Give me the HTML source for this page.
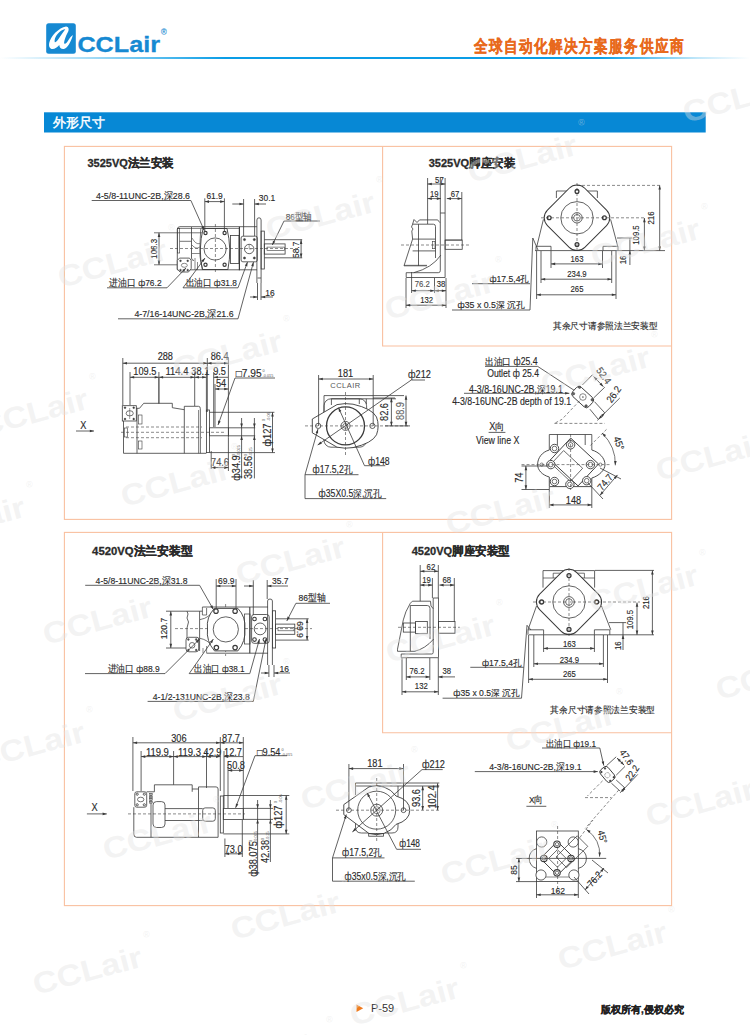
<!DOCTYPE html>
<html><head><meta charset="utf-8"><style>
html,body{margin:0;padding:0;background:#fff;}
body{width:750px;height:1035px;overflow:hidden;position:relative;font-family:"Liberation Sans",sans-serif;}
svg{position:absolute;left:0;top:0;}
</style></head><body>
<svg width="750" height="1035" viewBox="0 0 750 1035">
<defs>
<linearGradient id="hl" x1="0" x2="1" y1="0" y2="0">
<stop offset="0" stop-color="#0aa0e8" stop-opacity="0"/>
<stop offset="0.1" stop-color="#0aa0e8" stop-opacity="0.3"/>
<stop offset="0.3" stop-color="#0a9de6" stop-opacity="1"/>
<stop offset="0.8" stop-color="#0a9de6" stop-opacity="1"/>
<stop offset="0.93" stop-color="#0aa0e8" stop-opacity="0.25"/>
<stop offset="1" stop-color="#0aa0e8" stop-opacity="0"/>
</linearGradient>
</defs>
<rect x="46.2" y="23.2" width="29.6" height="30.6" rx="2.5" fill="#1689d2"/>
<path d="M66,26.4 C59,27.5 50.5,36 49.2,43 C48.6,46.5 49.8,49 52.5,49 C55,49 57.5,47 59.3,45 C59.5,47.8 61.2,49.3 63.8,49 C67.5,48.3 71.2,41.5 72.9,35 C71.3,36.2 69.8,37.8 68.5,40 C67,42.5 65.2,44.5 64.3,43.5 C63.6,42.5 65.5,36.5 68.2,31.5 C69.3,29.2 68.5,26.3 66,26.4 Z" fill="#fff"/>
<path d="M54.8,42.2 C54,39.5 56,35 59.5,32 C61.8,30 64,29 65.3,29.2 C63.8,31.2 61.5,34.5 59.5,37.5 C57.8,40 56,42.8 54.8,42.2 Z" fill="#1689d2"/>
<text x="77.4" y="52.0" font-size="22.5" text-anchor="start" font-weight="bold" fill="#1689d2" textLength="82.6" lengthAdjust="spacingAndGlyphs" stroke="#1689d2" stroke-width="0.3" font-family="Liberation Sans, sans-serif">CCLair</text>
<text x="161.0" y="34.7" font-size="9" text-anchor="start" font-weight="normal" fill="#1689d2" textLength="5.7" lengthAdjust="spacingAndGlyphs" stroke="#1689d2" stroke-width="0.14" font-family="Liberation Sans, sans-serif">®</text>
<text transform="translate(473.5,52.3) scale(0.8,1)" x="0" y="0" font-size="16.5" font-weight="bold" letter-spacing="2.3" fill="#e8691c" stroke="#e8691c" stroke-width="0.35" font-family="Liberation Sans, sans-serif">全球自动化解决方案服务供应商</text>
<rect x="0" y="57" width="750" height="2" fill="url(#hl)"/>
<rect x="44" y="112.3" width="661.7" height="20.2" fill="#0788d5"/>
<text x="52.7" y="127.4" font-size="13" text-anchor="start" font-weight="normal" fill="#ffffff" textLength="52" lengthAdjust="spacingAndGlyphs" stroke="#ffffff" stroke-width="0.45" font-family="Liberation Sans, sans-serif">外形尺寸</text>
<rect x="64.4" y="146.4" width="607.2" height="373.0" rx="0" fill="none" stroke="#f9c0a0" stroke-width="1.1"/>
<polyline points="382.6,146.4 382.6,346.0 671.6,346.0" fill="none" stroke="#f9c0a0" stroke-width="1.1"/>
<rect x="64.4" y="532.4" width="607.2" height="373.2" rx="0" fill="none" stroke="#f9c0a0" stroke-width="1.1"/>
<polyline points="382.6,532.4 382.6,732.8 671.6,732.8" fill="none" stroke="#f9c0a0" stroke-width="1.1"/>
<text x="87.5" y="167.1" font-size="11.5" text-anchor="start" font-weight="bold" fill="#2a2a2a" textLength="86.3" lengthAdjust="spacingAndGlyphs" stroke="#2a2a2a" stroke-width="0.3" font-family="Liberation Sans, sans-serif">3525VQ法兰安装</text>
<text x="428.7" y="167.4" font-size="11.5" text-anchor="start" font-weight="bold" fill="#2a2a2a" textLength="86.3" lengthAdjust="spacingAndGlyphs" stroke="#2a2a2a" stroke-width="0.3" font-family="Liberation Sans, sans-serif">3525VQ脚座安装</text>
<text x="92.1" y="554.7" font-size="11.5" text-anchor="start" font-weight="bold" fill="#2a2a2a" textLength="100.5" lengthAdjust="spacingAndGlyphs" stroke="#2a2a2a" stroke-width="0.3" font-family="Liberation Sans, sans-serif">4520VQ法兰安装型</text>
<text x="411.7" y="554.5" font-size="11.5" text-anchor="start" font-weight="bold" fill="#2a2a2a" textLength="98.1" lengthAdjust="spacingAndGlyphs" stroke="#2a2a2a" stroke-width="0.3" font-family="Liberation Sans, sans-serif">4520VQ脚座安装型</text>
<polygon points="356.5,1004.6 363.2,1008.3 356.5,1012" fill="#f07a1e"/>
<text x="371.0" y="1012.0" font-size="11" text-anchor="start" font-weight="normal" fill="#333" font-family="Liberation Sans, sans-serif">P-59</text>
<text x="601" y="1013.3" font-size="10" font-weight="bold" fill="#222" stroke="#222" stroke-width="0.3" textLength="83" lengthAdjust="spacingAndGlyphs" font-family="Liberation Sans, sans-serif">版权所有,侵权必究</text>
<text x="96.0" y="199.1" font-size="9.6" text-anchor="start" font-weight="normal" fill="#2a2a2a" textLength="94" lengthAdjust="spacingAndGlyphs" stroke="#2a2a2a" stroke-width="0.14" font-family="Liberation Sans, sans-serif">4-5/8-11UNC-2B,深28.6</text>
<polyline points="91.7,200.5 190.9,200.5 204.3,230.5" fill="none" stroke="#3a3a3a" stroke-width="0.8"/>
<polygon points="204.3,230.5 201.3,227.2 203.7,226.1" fill="#3a3a3a"/>
<text x="214.6" y="198.5" font-size="9.6" text-anchor="middle" font-weight="normal" fill="#2a2a2a" textLength="16.44" lengthAdjust="spacingAndGlyphs" stroke="#2a2a2a" stroke-width="0.14" font-family="Liberation Sans, sans-serif">61.9</text>
<line x1="204.8" y1="201.6" x2="224.4" y2="201.6" stroke="#3a3a3a" stroke-width="0.8"/>
<polygon points="204.8,201.6 209.0,200.3 209.0,202.9" fill="#3a3a3a"/>
<polygon points="224.4,201.6 220.2,202.9 220.2,200.3" fill="#3a3a3a"/>
<line x1="204.8" y1="198.3" x2="204.8" y2="231.0" stroke="#3a3a3a" stroke-width="0.8"/>
<line x1="224.4" y1="198.3" x2="224.4" y2="231.0" stroke="#3a3a3a" stroke-width="0.8"/>
<text x="267.0" y="200.8" font-size="9.6" text-anchor="middle" font-weight="normal" fill="#2a2a2a" textLength="16.44" lengthAdjust="spacingAndGlyphs" stroke="#2a2a2a" stroke-width="0.14" font-family="Liberation Sans, sans-serif">30.1</text>
<line x1="232.3" y1="204.0" x2="243.6" y2="204.0" stroke="#3a3a3a" stroke-width="0.8"/>
<polygon points="243.6,204.0 239.4,205.3 239.4,202.7" fill="#3a3a3a"/>
<line x1="254.6" y1="204.0" x2="266.0" y2="204.0" stroke="#3a3a3a" stroke-width="0.8"/>
<polygon points="254.6,204.0 258.8,202.7 258.8,205.3" fill="#3a3a3a"/>
<line x1="243.6" y1="199.0" x2="243.6" y2="236.0" stroke="#3a3a3a" stroke-width="0.8"/>
<line x1="254.6" y1="199.0" x2="254.6" y2="236.0" stroke="#3a3a3a" stroke-width="0.8"/>
<text x="285.7" y="219.7" font-size="9.6" text-anchor="start" font-weight="normal" fill="#555" textLength="26.1" lengthAdjust="spacingAndGlyphs" stroke="#555" stroke-width="0.14" font-family="Liberation Sans, sans-serif">86型轴</text>
<polyline points="284.0,221.0 320.0,221.0" fill="none" stroke="#3a3a3a" stroke-width="0.8"/>
<line x1="284.0" y1="221.0" x2="272.3" y2="245.0" stroke="#3a3a3a" stroke-width="0.8"/>
<polygon points="272.3,245.0 273.0,240.7 275.3,241.8" fill="#3a3a3a"/>
<line x1="154.0" y1="232.8" x2="201.9" y2="232.8" stroke="#3a3a3a" stroke-width="0.7"/>
<line x1="154.0" y1="264.8" x2="177.3" y2="264.8" stroke="#3a3a3a" stroke-width="0.7"/>
<line x1="159.0" y1="232.8" x2="159.0" y2="264.8" stroke="#3a3a3a" stroke-width="0.8"/>
<polygon points="159.0,232.8 160.3,237.0 157.7,237.0" fill="#3a3a3a"/>
<polygon points="159.0,264.8 157.7,260.6 160.3,260.6" fill="#3a3a3a"/>
<text x="153.5" y="252.0" font-size="9" text-anchor="middle" font-weight="normal" fill="#2a2a2a" transform="rotate(-90 153.5 248.8)" textLength="19.82" lengthAdjust="spacingAndGlyphs" stroke="#2a2a2a" stroke-width="0.14" font-family="Liberation Sans, sans-serif">106.3</text>
<line x1="264.3" y1="239.7" x2="302.2" y2="239.7" stroke="#3a3a3a" stroke-width="0.8"/>
<line x1="264.3" y1="257.8" x2="302.2" y2="257.8" stroke="#3a3a3a" stroke-width="0.8"/>
<line x1="301.1" y1="239.7" x2="301.1" y2="257.8" stroke="#3a3a3a" stroke-width="0.8"/>
<polygon points="301.1,239.7 302.4,243.9 299.8,243.9" fill="#3a3a3a"/>
<polygon points="301.1,257.8 299.8,253.6 302.4,253.6" fill="#3a3a3a"/>
<text x="295.3" y="253.3" font-size="9.6" text-anchor="middle" font-weight="normal" fill="#2a2a2a" transform="rotate(-90 295.3 249.8)" textLength="16.44" lengthAdjust="spacingAndGlyphs" stroke="#2a2a2a" stroke-width="0.14" font-family="Liberation Sans, sans-serif">58.7</text>
<line x1="170.0" y1="248.5" x2="300.0" y2="248.5" stroke="#3a3a3a" stroke-width="0.6" stroke-dasharray="3,2"/>
<line x1="215.4" y1="224.0" x2="215.4" y2="272.0" stroke="#3a3a3a" stroke-width="0.6" stroke-dasharray="3,2"/>
<path d="M180,226.7 L256.9,226.7 M177.3,229.4 Q177.3,226.7 180,226.7 M177.3,229.4 L177.3,269.8 L257,269.8" fill="none" stroke="#3a3a3a" stroke-width="0.8"/>
<line x1="177.3" y1="228.5" x2="239.4" y2="228.5" stroke="#3a3a3a" stroke-width="0.6"/>
<rect x="177.3" y="228.5" width="2.4" height="24.5" rx="0" fill="none" stroke="#3a3a3a" stroke-width="0.6"/>
<line x1="179.7" y1="241.3" x2="191.5" y2="241.3" stroke="#3a3a3a" stroke-width="0.7"/>
<path d="M191.5,227 L191.5,258 Q191.5,260.5 194,260.5" fill="none" stroke="#3a3a3a" stroke-width="0.8"/>
<path d="M192,238 Q196,245 199.8,243.5 M192,253.5 L199.8,253.5 M192,245 Q196,250 199.8,247" fill="none" stroke="#3a3a3a" stroke-width="0.6"/>
<path d="M200.8,228.5 Q199.5,250 200,256 Q200.5,263 202.9,269.8" fill="none" stroke="#3a3a3a" stroke-width="0.7"/>
<line x1="195.0" y1="258.0" x2="195.0" y2="269.8" stroke="#3a3a3a" stroke-width="0.6"/>
<line x1="197.5" y1="262.0" x2="197.5" y2="269.8" stroke="#3a3a3a" stroke-width="0.6"/>
<path d="M203.1,228.5 L227,228.5 Q232,249 227.9,269.5 L202.3,269.5 Q198,249 203.1,228.5 Z" fill="none" stroke="#3a3a3a" stroke-width="0.9"/>
<circle cx="215.1" cy="249.0" r="11.1" fill="none" stroke="#3a3a3a" stroke-width="0.8"/>
<circle cx="205.5" cy="233.0" r="1.6" fill="none" stroke="#3a3a3a" stroke-width="1.2"/>
<circle cx="224.6" cy="233.0" r="1.6" fill="none" stroke="#3a3a3a" stroke-width="1.2"/>
<circle cx="205.5" cy="264.8" r="1.6" fill="none" stroke="#3a3a3a" stroke-width="1.2"/>
<circle cx="224.6" cy="264.8" r="1.6" fill="none" stroke="#3a3a3a" stroke-width="1.2"/>
<rect x="230.4" y="235.4" width="8.6" height="28.1" rx="0" fill="none" stroke="#3a3a3a" stroke-width="0.8"/>
<line x1="239.4" y1="226.7" x2="239.4" y2="270.3" stroke="#3a3a3a" stroke-width="1.2"/>
<rect x="241.1" y="236.2" width="16.2" height="25.6" rx="1.8" fill="none" stroke="#3a3a3a" stroke-width="0.8"/>
<circle cx="249.2" cy="249.0" r="4.7" fill="none" stroke="#3a3a3a" stroke-width="0.8"/>
<line x1="249.2" y1="244.5" x2="249.2" y2="249.0" stroke="#3a3a3a" stroke-width="0.5"/>
<line x1="249.2" y1="249.0" x2="251.5" y2="249.0" stroke="#3a3a3a" stroke-width="0.5"/>
<circle cx="244.5" cy="239.6" r="1.1" fill="#3a3a3a" stroke="#3a3a3a" stroke-width="0.5"/>
<circle cx="254.3" cy="239.6" r="1.1" fill="#3a3a3a" stroke="#3a3a3a" stroke-width="0.5"/>
<circle cx="244.5" cy="258.0" r="1.1" fill="#3a3a3a" stroke="#3a3a3a" stroke-width="0.5"/>
<circle cx="254.3" cy="258.0" r="1.1" fill="#3a3a3a" stroke="#3a3a3a" stroke-width="0.5"/>
<path d="M256.9,283 L256.9,220 Q256.9,217.8 259,217.8 Q261.1,217.8 261.1,220 L261.1,283" fill="none" stroke="#3a3a3a" stroke-width="0.8"/>
<rect x="261.1" y="231.1" width="3.2" height="37.9" rx="0" fill="none" stroke="#3a3a3a" stroke-width="0.8"/>
<line x1="257.5" y1="278.0" x2="261.0" y2="278.0" stroke="#3a3a3a" stroke-width="0.8"/>
<rect x="264.3" y="243.9" width="20.8" height="10.2" rx="0" fill="none" stroke="#3a3a3a" stroke-width="0.8"/>
<rect x="267.0" y="247.1" width="17.6" height="3.2" rx="0" fill="none" stroke="#3a3a3a" stroke-width="0.6"/>
<path d="M179.5,258.1 L189.5,258.1 L191.2,260.5 L191.2,268.5 L188.5,272 L180,272 L177.3,269 L177.3,260.5 Z" fill="#fff" stroke="#3a3a3a" stroke-width="0.8"/>
<ellipse cx="184.3" cy="265.3" rx="3" ry="2" fill="none" stroke="#3a3a3a" stroke-width="0.6"/>
<circle cx="180.5" cy="260.8" r="0.9" fill="#3a3a3a" stroke="#3a3a3a" stroke-width="0.4"/>
<circle cx="187.7" cy="260.8" r="0.9" fill="#3a3a3a" stroke="#3a3a3a" stroke-width="0.4"/>
<circle cx="180.5" cy="270.1" r="0.9" fill="#3a3a3a" stroke="#3a3a3a" stroke-width="0.4"/>
<circle cx="187.7" cy="270.1" r="0.9" fill="#3a3a3a" stroke="#3a3a3a" stroke-width="0.4"/>
<text x="109.4" y="285.5" font-size="9.6" text-anchor="start" font-weight="normal" fill="#2a2a2a" textLength="52.2" lengthAdjust="spacingAndGlyphs" stroke="#2a2a2a" stroke-width="0.14" font-family="Liberation Sans, sans-serif">进油口 ф76.2</text>
<polyline points="107.0,287.8 167.0,287.8 186.0,268.0" fill="none" stroke="#3a3a3a" stroke-width="0.8"/>
<polygon points="186.0,268.0 184.0,271.9 182.1,270.1" fill="#3a3a3a"/>
<text x="185.6" y="285.5" font-size="9.6" text-anchor="start" font-weight="normal" fill="#2a2a2a" textLength="51.2" lengthAdjust="spacingAndGlyphs" stroke="#2a2a2a" stroke-width="0.14" font-family="Liberation Sans, sans-serif">出油口 ф31.8</text>
<polyline points="183.0,287.8 238.0,287.8 247.5,262.0" fill="none" stroke="#3a3a3a" stroke-width="0.8"/>
<line x1="183.0" y1="287.8" x2="205.0" y2="258.0" stroke="#3a3a3a" stroke-width="0.8"/>
<polygon points="205.0,258.0 203.5,262.1 201.4,260.6" fill="#3a3a3a"/>
<polygon points="247.5,262.0 247.3,266.4 244.8,265.5" fill="#3a3a3a"/>
<line x1="257.5" y1="283.0" x2="257.5" y2="300.0" stroke="#3a3a3a" stroke-width="0.8"/>
<line x1="261.0" y1="283.0" x2="261.0" y2="300.0" stroke="#3a3a3a" stroke-width="0.8"/>
<line x1="250.0" y1="297.0" x2="257.5" y2="297.0" stroke="#3a3a3a" stroke-width="0.8"/>
<polygon points="257.5,297.0 253.3,298.3 253.3,295.7" fill="#3a3a3a"/>
<line x1="261.0" y1="297.0" x2="273.0" y2="297.0" stroke="#3a3a3a" stroke-width="0.8"/>
<polygon points="261.0,297.0 265.2,295.7 265.2,298.3" fill="#3a3a3a"/>
<text x="265.2" y="296.0" font-size="9.6" text-anchor="start" font-weight="normal" fill="#2a2a2a" textLength="9.4" lengthAdjust="spacingAndGlyphs" stroke="#2a2a2a" stroke-width="0.14" font-family="Liberation Sans, sans-serif">16</text>
<text x="134.4" y="316.7" font-size="9.6" text-anchor="start" font-weight="normal" fill="#2a2a2a" textLength="99.2" lengthAdjust="spacingAndGlyphs" stroke="#2a2a2a" stroke-width="0.14" font-family="Liberation Sans, sans-serif">4-7/16-14UNC-2B,深21.6</text>
<polyline points="118.0,318.8 238.0,318.8 253.5,262.0" fill="none" stroke="#3a3a3a" stroke-width="0.8"/>
<polygon points="253.5,262.0 253.7,266.4 251.2,265.7" fill="#3a3a3a"/>
<text x="439.4" y="182.7" font-size="9.0" text-anchor="middle" font-weight="normal" fill="#2a2a2a" textLength="8.61" lengthAdjust="spacingAndGlyphs" stroke="#2a2a2a" stroke-width="0.14" font-family="Liberation Sans, sans-serif">57</text>
<line x1="427.6" y1="184.0" x2="445.3" y2="184.0" stroke="#3a3a3a" stroke-width="0.8"/>
<polygon points="427.6,184.0 431.8,182.7 431.8,185.3" fill="#3a3a3a"/>
<polygon points="445.3,184.0 441.1,185.3 441.1,182.7" fill="#3a3a3a"/>
<text x="434.3" y="196.7" font-size="9.0" text-anchor="middle" font-weight="normal" fill="#2a2a2a" textLength="8.61" lengthAdjust="spacingAndGlyphs" stroke="#2a2a2a" stroke-width="0.14" font-family="Liberation Sans, sans-serif">19</text>
<line x1="427.6" y1="198.6" x2="441.0" y2="198.6" stroke="#3a3a3a" stroke-width="0.8"/>
<polygon points="427.6,198.6 431.8,197.3 431.8,199.9" fill="#3a3a3a"/>
<polygon points="441.0,198.6 436.8,199.9 436.8,197.3" fill="#3a3a3a"/>
<text x="455.0" y="196.7" font-size="9.0" text-anchor="middle" font-weight="normal" fill="#2a2a2a" textLength="8.61" lengthAdjust="spacingAndGlyphs" stroke="#2a2a2a" stroke-width="0.14" font-family="Liberation Sans, sans-serif">67</text>
<line x1="446.8" y1="198.6" x2="461.8" y2="198.6" stroke="#3a3a3a" stroke-width="0.8"/>
<polygon points="446.8,198.6 451.0,197.3 451.0,199.9" fill="#3a3a3a"/>
<polygon points="461.8,198.6 457.6,199.9 457.6,197.3" fill="#3a3a3a"/>
<line x1="427.6" y1="178.0" x2="427.6" y2="224.0" stroke="#3a3a3a" stroke-width="0.8"/>
<line x1="461.8" y1="192.0" x2="461.8" y2="240.0" stroke="#3a3a3a" stroke-width="0.8"/>
<line x1="440.3" y1="178.0" x2="440.3" y2="213.0" stroke="#3a3a3a" stroke-width="0.8"/>
<line x1="445.1" y1="178.0" x2="445.1" y2="213.0" stroke="#3a3a3a" stroke-width="0.8"/>
<path d="M440.3,213 L440.3,270.7 Q440.3,272.7 438.3,272.7 L406.2,272.7 L406.2,277.5 L445.1,277.5 L445.1,213 Z" fill="none" stroke="#3a3a3a" stroke-width="0.8"/>
<polyline points="412.6,224.2 414.0,219.5 417.0,222.5 419.5,219.9 437.7,219.9 439.8,222.6" fill="none" stroke="#3a3a3a" stroke-width="0.8"/>
<path d="M412.6,224.2 L433.4,224.2 Q435.5,224.2 435.5,226.5 L435.5,258" fill="none" stroke="#3a3a3a" stroke-width="0.8"/>
<polyline points="412.6,224.2 411.5,227.0 413.0,229.0 411.8,231.0 412.6,239.1 404.0,265.8 427.0,265.8" fill="none" stroke="#3a3a3a" stroke-width="0.8"/>
<line x1="412.6" y1="239.1" x2="435.5" y2="239.1" stroke="#3a3a3a" stroke-width="0.8"/>
<line x1="412.6" y1="250.9" x2="435.5" y2="250.9" stroke="#3a3a3a" stroke-width="0.8"/>
<line x1="418.5" y1="224.2" x2="418.5" y2="265.8" stroke="#3a3a3a" stroke-width="0.8"/>
<line x1="404.0" y1="265.3" x2="427.0" y2="265.3" stroke="#3a3a3a" stroke-width="0.6"/>
<path d="M440.9,255.1 Q432,268 413.7,272.7" fill="none" stroke="#3a3a3a" stroke-width="0.8"/>
<rect x="432.3" y="241.3" width="2.7" height="7.4" rx="0" fill="none" stroke="#3a3a3a" stroke-width="0.6"/>
<rect x="445.1" y="240.2" width="17.1" height="9.1" rx="0" fill="none" stroke="#3a3a3a" stroke-width="0.8"/>
<line x1="445.1" y1="239.8" x2="462.2" y2="239.8" stroke="#3a3a3a" stroke-width="0.6"/>
<line x1="401.0" y1="245.0" x2="469.0" y2="245.0" stroke="#3a3a3a" stroke-width="0.6" stroke-dasharray="3,2"/>
<line x1="411.6" y1="272.0" x2="411.6" y2="293.0" stroke="#3a3a3a" stroke-width="0.8"/>
<line x1="434.5" y1="278.0" x2="434.5" y2="293.0" stroke="#3a3a3a" stroke-width="0.8"/>
<line x1="446.0" y1="278.0" x2="446.0" y2="308.0" stroke="#3a3a3a" stroke-width="0.8"/>
<line x1="406.0" y1="278.0" x2="406.0" y2="308.0" stroke="#3a3a3a" stroke-width="0.8"/>
<text x="422.3" y="287.2" font-size="9.0" text-anchor="middle" font-weight="normal" fill="#555" textLength="15.06" lengthAdjust="spacingAndGlyphs" stroke="#555" stroke-width="0.14" font-family="Liberation Sans, sans-serif">76.2</text>
<text x="441.0" y="287.2" font-size="9.0" text-anchor="middle" font-weight="normal" fill="#2a2a2a" textLength="8.61" lengthAdjust="spacingAndGlyphs" stroke="#2a2a2a" stroke-width="0.14" font-family="Liberation Sans, sans-serif">38</text>
<line x1="411.6" y1="290.7" x2="446.0" y2="290.7" stroke="#3a3a3a" stroke-width="0.8"/>
<polygon points="411.6,290.7 415.8,289.4 415.8,292.0" fill="#3a3a3a"/>
<polygon points="434.5,290.7 430.3,292.0 430.3,289.4" fill="#3a3a3a"/>
<polygon points="434.5,290.7 438.7,289.4 438.7,292.0" fill="#3a3a3a"/>
<polygon points="446.0,290.7 441.8,292.0 441.8,289.4" fill="#3a3a3a"/>
<text x="426.6" y="303.2" font-size="9.0" text-anchor="middle" font-weight="normal" fill="#2a2a2a" textLength="12.91" lengthAdjust="spacingAndGlyphs" stroke="#2a2a2a" stroke-width="0.14" font-family="Liberation Sans, sans-serif">132</text>
<line x1="406.0" y1="305.2" x2="446.0" y2="305.2" stroke="#3a3a3a" stroke-width="0.8"/>
<polygon points="406.0,305.2 410.2,303.9 410.2,306.5" fill="#3a3a3a"/>
<polygon points="446.0,305.2 441.8,306.5 441.8,303.9" fill="#3a3a3a"/>
<text x="489.5" y="282.2" font-size="9.0" text-anchor="start" font-weight="normal" fill="#2a2a2a" textLength="39.5" lengthAdjust="spacingAndGlyphs" stroke="#2a2a2a" stroke-width="0.14" font-family="Liberation Sans, sans-serif">ф17.5,4孔</text>
<line x1="472.0" y1="283.7" x2="530.0" y2="283.7" stroke="#3a3a3a" stroke-width="0.8"/>
<text x="457.5" y="308.2" font-size="9.0" text-anchor="start" font-weight="normal" fill="#2a2a2a" textLength="67.2" lengthAdjust="spacingAndGlyphs" stroke="#2a2a2a" stroke-width="0.14" font-family="Liberation Sans, sans-serif">ф35 x 0.5深 沉孔</text>
<polyline points="452.0,310.0 530.0,310.0 532.8,238.0 538.0,250.0" fill="none" stroke="#3a3a3a" stroke-width="0.8"/>
<polyline points="556.4,198.0 556.4,191.0 597.4,191.0 597.4,198.0" fill="none" stroke="#3a3a3a" stroke-width="0.8"/>
<rect x="550.6" y="191.4" width="52.8" height="52.8" rx="11" fill="#fff" stroke="#3a3a3a" stroke-width="1.0" transform="rotate(45 577 217.8)"/>
<circle cx="577.0" cy="217.8" r="16.2" fill="none" stroke="#3a3a3a" stroke-width="0.8"/>
<circle cx="577.0" cy="217.8" r="5.2" fill="none" stroke="#3a3a3a" stroke-width="0.8"/>
<circle cx="577.0" cy="217.8" r="3.3" fill="none" stroke="#3a3a3a" stroke-width="0.7"/>
<circle cx="577.0" cy="191.4" r="1.9" fill="none" stroke="#3a3a3a" stroke-width="1.3"/>
<circle cx="577.0" cy="244.6" r="1.9" fill="none" stroke="#3a3a3a" stroke-width="1.3"/>
<circle cx="549.2" cy="217.8" r="1.9" fill="none" stroke="#3a3a3a" stroke-width="1.3"/>
<circle cx="604.4" cy="217.8" r="1.9" fill="none" stroke="#3a3a3a" stroke-width="1.3"/>
<line x1="577.0" y1="183.0" x2="577.0" y2="252.0" stroke="#3a3a3a" stroke-width="0.6" stroke-dasharray="3,2"/>
<line x1="541.0" y1="217.8" x2="645.0" y2="217.8" stroke="#3a3a3a" stroke-width="0.6" stroke-dasharray="3,2"/>
<line x1="577.0" y1="185.4" x2="662.0" y2="185.4" stroke="#3a3a3a" stroke-width="0.6" stroke-dasharray="3,2"/>
<polyline points="543.4,219.4 536.8,246.4" fill="none" stroke="#3a3a3a" stroke-width="0.8"/>
<polyline points="610.6,219.4 617.8,246.4" fill="none" stroke="#3a3a3a" stroke-width="0.8"/>
<line x1="535.0" y1="250.6" x2="665.0" y2="250.6" stroke="#3a3a3a" stroke-width="0.8"/>
<polyline points="536.0,250.6 536.0,246.3 551.0,246.3 551.0,250.6" fill="none" stroke="#3a3a3a" stroke-width="0.8"/>
<polyline points="603.0,250.6 603.0,246.3 618.0,246.3 618.0,250.6" fill="none" stroke="#3a3a3a" stroke-width="0.8"/>
<line x1="659.7" y1="185.4" x2="659.7" y2="250.6" stroke="#3a3a3a" stroke-width="0.8"/>
<polygon points="659.7,185.4 661.0,189.6 658.4,189.6" fill="#3a3a3a"/>
<polygon points="659.7,250.6 658.4,246.4 661.0,246.4" fill="#3a3a3a"/>
<text x="651.0" y="221.2" font-size="9.0" text-anchor="middle" font-weight="normal" fill="#2a2a2a" transform="rotate(-90 651.0 218.0)" textLength="12.91" lengthAdjust="spacingAndGlyphs" stroke="#2a2a2a" stroke-width="0.14" font-family="Liberation Sans, sans-serif">216</text>
<line x1="644.4" y1="218.0" x2="644.4" y2="250.6" stroke="#3a3a3a" stroke-width="0.8"/>
<polygon points="644.4,218.0 645.7,222.2 643.1,222.2" fill="#3a3a3a"/>
<polygon points="644.4,250.6 643.1,246.4 645.7,246.4" fill="#3a3a3a"/>
<text x="636.0" y="238.2" font-size="9.0" text-anchor="middle" font-weight="normal" fill="#2a2a2a" transform="rotate(-90 636.0 235.0)" textLength="19.37" lengthAdjust="spacingAndGlyphs" stroke="#2a2a2a" stroke-width="0.14" font-family="Liberation Sans, sans-serif">109.5</text>
<line x1="629.9" y1="238.0" x2="629.9" y2="265.0" stroke="#3a3a3a" stroke-width="0.8"/>
<polygon points="629.9,250.6 631.2,254.8 628.6,254.8" fill="#3a3a3a"/>
<line x1="617.0" y1="238.0" x2="632.0" y2="238.0" stroke="#3a3a3a" stroke-width="0.8"/>
<text x="622.5" y="263.2" font-size="9.0" text-anchor="middle" font-weight="normal" fill="#2a2a2a" transform="rotate(-90 622.5 260.0)" textLength="8.61" lengthAdjust="spacingAndGlyphs" stroke="#2a2a2a" stroke-width="0.14" font-family="Liberation Sans, sans-serif">16</text>
<line x1="551.0" y1="251.0" x2="551.0" y2="268.0" stroke="#3a3a3a" stroke-width="0.8"/>
<line x1="602.5" y1="251.0" x2="602.5" y2="268.0" stroke="#3a3a3a" stroke-width="0.8"/>
<text x="577.0" y="261.7" font-size="9.0" text-anchor="middle" font-weight="normal" fill="#2a2a2a" textLength="12.91" lengthAdjust="spacingAndGlyphs" stroke="#2a2a2a" stroke-width="0.14" font-family="Liberation Sans, sans-serif">163</text>
<line x1="551.0" y1="263.9" x2="602.5" y2="263.9" stroke="#3a3a3a" stroke-width="0.8"/>
<polygon points="551.0,263.9 555.2,262.6 555.2,265.2" fill="#3a3a3a"/>
<polygon points="602.5,263.9 598.3,265.2 598.3,262.6" fill="#3a3a3a"/>
<line x1="541.0" y1="251.0" x2="541.0" y2="283.0" stroke="#3a3a3a" stroke-width="0.8"/>
<line x1="611.7" y1="251.0" x2="611.7" y2="283.0" stroke="#3a3a3a" stroke-width="0.8"/>
<text x="577.0" y="276.7" font-size="9.0" text-anchor="middle" font-weight="normal" fill="#2a2a2a" textLength="19.37" lengthAdjust="spacingAndGlyphs" stroke="#2a2a2a" stroke-width="0.14" font-family="Liberation Sans, sans-serif">234.9</text>
<line x1="541.0" y1="279.2" x2="611.7" y2="279.2" stroke="#3a3a3a" stroke-width="0.8"/>
<polygon points="541.0,279.2 545.2,277.9 545.2,280.5" fill="#3a3a3a"/>
<polygon points="611.7,279.2 607.5,280.5 607.5,277.9" fill="#3a3a3a"/>
<line x1="536.6" y1="251.0" x2="536.6" y2="299.0" stroke="#3a3a3a" stroke-width="0.8"/>
<line x1="616.0" y1="251.0" x2="616.0" y2="299.0" stroke="#3a3a3a" stroke-width="0.8"/>
<text x="577.0" y="292.2" font-size="9.0" text-anchor="middle" font-weight="normal" fill="#2a2a2a" textLength="12.91" lengthAdjust="spacingAndGlyphs" stroke="#2a2a2a" stroke-width="0.14" font-family="Liberation Sans, sans-serif">265</text>
<line x1="536.6" y1="294.8" x2="616.0" y2="294.8" stroke="#3a3a3a" stroke-width="0.8"/>
<polygon points="536.6,294.8 540.8,293.5 540.8,296.1" fill="#3a3a3a"/>
<polygon points="616.0,294.8 611.8,296.1 611.8,293.5" fill="#3a3a3a"/>
<text x="553.0" y="328.9" font-size="8.8" text-anchor="start" font-weight="normal" fill="#2a2a2a" textLength="104.6" lengthAdjust="spacingAndGlyphs" stroke="#2a2a2a" stroke-width="0.14" font-family="Liberation Sans, sans-serif">其余尺寸请参照法兰安装型</text>
<text x="165.3" y="360.3" font-size="10.0" text-anchor="middle" font-weight="normal" fill="#2a2a2a" textLength="15.35" lengthAdjust="spacingAndGlyphs" stroke="#2a2a2a" stroke-width="0.14" font-family="Liberation Sans, sans-serif">288</text>
<line x1="122.8" y1="363.2" x2="207.3" y2="363.2" stroke="#3a3a3a" stroke-width="0.8"/>
<polygon points="122.8,363.2 127.0,361.9 127.0,364.5" fill="#3a3a3a"/>
<polygon points="207.3,363.2 203.1,364.5 203.1,361.9" fill="#3a3a3a"/>
<text x="219.6" y="360.3" font-size="10.0" text-anchor="middle" font-weight="normal" fill="#2a2a2a" textLength="17.91" lengthAdjust="spacingAndGlyphs" stroke="#2a2a2a" stroke-width="0.14" font-family="Liberation Sans, sans-serif">86.4</text>
<line x1="207.3" y1="363.2" x2="228.4" y2="363.2" stroke="#3a3a3a" stroke-width="0.8"/>
<polygon points="207.3,363.2 211.5,361.9 211.5,364.5" fill="#3a3a3a"/>
<polygon points="228.4,363.2 224.2,364.5 224.2,361.9" fill="#3a3a3a"/>
<text x="144.8" y="374.6" font-size="10.0" text-anchor="middle" font-weight="normal" fill="#2a2a2a" textLength="23.02" lengthAdjust="spacingAndGlyphs" stroke="#2a2a2a" stroke-width="0.14" font-family="Liberation Sans, sans-serif">109.5</text>
<line x1="130.0" y1="377.3" x2="158.9" y2="377.3" stroke="#3a3a3a" stroke-width="0.8"/>
<polygon points="130.0,377.3 134.2,376.0 134.2,378.6" fill="#3a3a3a"/>
<polygon points="158.9,377.3 154.7,378.6 154.7,376.0" fill="#3a3a3a"/>
<text x="177.0" y="374.6" font-size="10.0" text-anchor="middle" font-weight="normal" fill="#2a2a2a" textLength="23.02" lengthAdjust="spacingAndGlyphs" stroke="#2a2a2a" stroke-width="0.14" font-family="Liberation Sans, sans-serif">114.4</text>
<line x1="158.9" y1="377.3" x2="194.7" y2="377.3" stroke="#3a3a3a" stroke-width="0.8"/>
<polygon points="158.9,377.3 163.1,376.0 163.1,378.6" fill="#3a3a3a"/>
<polygon points="194.7,377.3 190.5,378.6 190.5,376.0" fill="#3a3a3a"/>
<text x="200.3" y="374.6" font-size="10.0" text-anchor="middle" font-weight="normal" fill="#2a2a2a" textLength="17.91" lengthAdjust="spacingAndGlyphs" stroke="#2a2a2a" stroke-width="0.14" font-family="Liberation Sans, sans-serif">38.1</text>
<line x1="194.7" y1="377.3" x2="206.4" y2="377.3" stroke="#3a3a3a" stroke-width="0.8"/>
<polygon points="194.7,377.3 198.9,376.0 198.9,378.6" fill="#3a3a3a"/>
<polygon points="206.4,377.3 202.2,378.6 202.2,376.0" fill="#3a3a3a"/>
<text x="219.6" y="374.6" font-size="10.0" text-anchor="middle" font-weight="normal" fill="#2a2a2a" textLength="12.79" lengthAdjust="spacingAndGlyphs" stroke="#2a2a2a" stroke-width="0.14" font-family="Liberation Sans, sans-serif">9.5</text>
<line x1="213.7" y1="377.3" x2="228.0" y2="377.3" stroke="#3a3a3a" stroke-width="0.8"/>
<polygon points="213.7,377.3 217.9,376.0 217.9,378.6" fill="#3a3a3a"/>
<text x="221.0" y="387.1" font-size="10.0" text-anchor="middle" font-weight="normal" fill="#2a2a2a" textLength="10.23" lengthAdjust="spacingAndGlyphs" stroke="#2a2a2a" stroke-width="0.14" font-family="Liberation Sans, sans-serif">54</text>
<line x1="215.0" y1="389.0" x2="228.4" y2="389.0" stroke="#3a3a3a" stroke-width="0.8"/>
<polygon points="215.0,389.0 219.2,387.7 219.2,390.3" fill="#3a3a3a"/>
<polygon points="228.4,389.0 224.2,390.3 224.2,387.7" fill="#3a3a3a"/>
<line x1="122.8" y1="358.0" x2="122.8" y2="405.0" stroke="#3a3a3a" stroke-width="0.8"/>
<line x1="130.0" y1="372.0" x2="130.0" y2="405.0" stroke="#3a3a3a" stroke-width="0.8"/>
<line x1="158.9" y1="372.0" x2="158.9" y2="403.7" stroke="#3a3a3a" stroke-width="0.8"/>
<line x1="194.7" y1="372.0" x2="194.7" y2="406.0" stroke="#3a3a3a" stroke-width="0.8"/>
<line x1="207.3" y1="358.0" x2="207.3" y2="412.0" stroke="#3a3a3a" stroke-width="0.8"/>
<line x1="206.4" y1="372.0" x2="206.4" y2="412.0" stroke="#3a3a3a" stroke-width="0.8"/>
<line x1="228.4" y1="358.0" x2="228.4" y2="437.4" stroke="#3a3a3a" stroke-width="0.8"/>
<line x1="213.7" y1="372.0" x2="213.7" y2="427.0" stroke="#3a3a3a" stroke-width="0.8"/>
<line x1="215.0" y1="384.0" x2="215.0" y2="427.0" stroke="#3a3a3a" stroke-width="0.8"/>
<text x="235.7" y="377.1" font-size="10.0" text-anchor="start" font-weight="normal" fill="#2a2a2a" textLength="26" lengthAdjust="spacingAndGlyphs" stroke="#2a2a2a" stroke-width="0.14" font-family="Liberation Sans, sans-serif">□7.95</text>
<g transform="translate(262.5,373.5)" font-size="3.8" fill="#555" font-family="Liberation Sans, sans-serif"><text x="0" y="-1.2">0</text><text x="0" y="3.6">-0.015</text></g>
<polyline points="235.0,378.0 275.0,378.0" fill="none" stroke="#3a3a3a" stroke-width="0.8"/>
<line x1="235.0" y1="378.0" x2="218.0" y2="425.0" stroke="#3a3a3a" stroke-width="0.8"/>
<polygon points="218.0,425.0 218.2,420.6 220.7,421.5" fill="#3a3a3a"/>
<text x="83.2" y="428.6" font-size="10.0" text-anchor="middle" font-weight="normal" fill="#2a2a2a" textLength="6.14" lengthAdjust="spacingAndGlyphs" stroke="#2a2a2a" stroke-width="0.14" font-family="Liberation Sans, sans-serif">X</text>
<line x1="76.0" y1="431.0" x2="94.0" y2="431.0" stroke="#3a3a3a" stroke-width="0.8"/>
<polygon points="94.0,431.0 89.8,432.3 89.8,429.7" fill="#3a3a3a"/>
<rect x="122.3" y="405.7" width="14.0" height="15.3" rx="0" fill="none" stroke="#3a3a3a" stroke-width="0.8"/>
<circle cx="125.0" cy="407.7" r="0.9" fill="#3a3a3a" stroke="#3a3a3a" stroke-width="0.4"/>
<circle cx="133.7" cy="407.7" r="0.9" fill="#3a3a3a" stroke="#3a3a3a" stroke-width="0.4"/>
<circle cx="125.0" cy="419.0" r="0.9" fill="#3a3a3a" stroke="#3a3a3a" stroke-width="0.4"/>
<circle cx="133.7" cy="419.0" r="0.9" fill="#3a3a3a" stroke="#3a3a3a" stroke-width="0.4"/>
<ellipse cx="129.7" cy="413.3" rx="3.6" ry="2.6" fill="none" stroke="#3a3a3a" stroke-width="0.7"/>
<line x1="129.7" y1="408.0" x2="129.7" y2="419.0" stroke="#3a3a3a" stroke-width="0.5"/>
<path d="M136.3,408.3 L139.5,408.3 L143.7,403.3 L172.3,403.3 L172.3,407.7 L184.3,409.7" fill="none" stroke="#3a3a3a" stroke-width="0.8"/>
<path d="M184.3,453.3 L184.3,406.3 L198.5,406.3 Q200.3,406.3 200.3,408.5 L200.3,453.3" fill="none" stroke="#3a3a3a" stroke-width="0.8"/>
<path d="M123.5,421 L123.5,453.3 L206.4,453.3" fill="none" stroke="#3a3a3a" stroke-width="0.8"/>
<line x1="137.0" y1="408.3" x2="137.0" y2="453.3" stroke="#3a3a3a" stroke-width="0.8"/>
<line x1="198.5" y1="410.0" x2="198.5" y2="453.3" stroke="#3a3a3a" stroke-width="0.6"/>
<line x1="158.9" y1="378.0" x2="158.9" y2="403.3" stroke="#3a3a3a" stroke-width="0.7"/>
<rect x="206.4" y="410.0" width="3.2" height="42.6" rx="0" fill="none" stroke="#3a3a3a" stroke-width="0.8"/>
<rect x="209.6" y="427.8" width="18.8" height="8.0" rx="0" fill="none" stroke="#3a3a3a" stroke-width="0.8"/>
<line x1="126.0" y1="427.0" x2="202.0" y2="427.0" stroke="#3a3a3a" stroke-width="0.6" stroke-dasharray="3,2"/>
<line x1="121.0" y1="432.3" x2="226.0" y2="432.3" stroke="#3a3a3a" stroke-width="0.6" stroke-dasharray="3,2"/>
<line x1="126.0" y1="437.7" x2="202.0" y2="437.7" stroke="#3a3a3a" stroke-width="0.6" stroke-dasharray="3,2"/>
<rect x="138.5" y="415.0" width="3.5" height="9.0" rx="0" fill="none" stroke="#3a3a3a" stroke-width="0.6"/>
<rect x="138.5" y="441.0" width="3.5" height="8.0" rx="0" fill="none" stroke="#3a3a3a" stroke-width="0.6"/>
<rect x="124.5" y="428.0" width="3.0" height="9.0" rx="0" fill="none" stroke="#3a3a3a" stroke-width="0.6"/>
<line x1="209.6" y1="412.3" x2="274.4" y2="412.3" stroke="#3a3a3a" stroke-width="0.8"/>
<line x1="209.6" y1="452.6" x2="275.0" y2="452.6" stroke="#3a3a3a" stroke-width="0.8"/>
<line x1="272.5" y1="412.3" x2="272.5" y2="452.6" stroke="#3a3a3a" stroke-width="0.8"/>
<polygon points="272.5,412.3 273.8,416.5 271.2,416.5" fill="#3a3a3a"/>
<polygon points="272.5,452.6 271.2,448.4 273.8,448.4" fill="#3a3a3a"/>
<text x="267.2" y="438.6" font-size="10.0" text-anchor="middle" font-weight="normal" fill="#2a2a2a" transform="rotate(-90 267.2 435.0)" textLength="22.92" lengthAdjust="spacingAndGlyphs" stroke="#2a2a2a" stroke-width="0.14" font-family="Liberation Sans, sans-serif">ф127</text>
<g transform="translate(266.0,421.0) rotate(-90)" font-size="3.8" fill="#555" font-family="Liberation Sans, sans-serif"><text x="0" y="-1.2">0</text><text x="0" y="3.6">-0.06</text></g>
<line x1="228.4" y1="427.8" x2="255.2" y2="427.8" stroke="#3a3a3a" stroke-width="0.8"/>
<line x1="228.4" y1="435.8" x2="255.2" y2="435.8" stroke="#3a3a3a" stroke-width="0.8"/>
<line x1="241.6" y1="418.0" x2="241.6" y2="478.4" stroke="#3a3a3a" stroke-width="0.8"/>
<polygon points="241.6,427.8 240.3,423.6 242.9,423.6" fill="#3a3a3a"/>
<polygon points="241.6,435.8 242.9,440.0 240.3,440.0" fill="#3a3a3a"/>
<line x1="254.4" y1="418.0" x2="254.4" y2="478.4" stroke="#3a3a3a" stroke-width="0.8"/>
<polygon points="254.4,427.8 253.1,423.6 255.7,423.6" fill="#3a3a3a"/>
<polygon points="254.4,435.8 255.7,440.0 253.1,440.0" fill="#3a3a3a"/>
<line x1="211.2" y1="451.0" x2="211.2" y2="469.0" stroke="#3a3a3a" stroke-width="0.8"/>
<line x1="228.4" y1="437.4" x2="228.4" y2="471.0" stroke="#3a3a3a" stroke-width="0.8"/>
<text x="220.0" y="465.6" font-size="10.0" text-anchor="middle" font-weight="normal" fill="#555" textLength="17.91" lengthAdjust="spacingAndGlyphs" stroke="#555" stroke-width="0.14" font-family="Liberation Sans, sans-serif">74.6</text>
<line x1="211.2" y1="467.6" x2="228.4" y2="467.6" stroke="#3a3a3a" stroke-width="0.8"/>
<polygon points="211.2,467.6 215.4,466.3 215.4,468.9" fill="#3a3a3a"/>
<polygon points="228.4,467.6 224.2,468.9 224.2,466.3" fill="#3a3a3a"/>
<text x="236.4" y="471.6" font-size="10.0" text-anchor="middle" font-weight="normal" fill="#2a2a2a" transform="rotate(-90 236.4 468.0)" textLength="25.48" lengthAdjust="spacingAndGlyphs" stroke="#2a2a2a" stroke-width="0.14" font-family="Liberation Sans, sans-serif">ф34.9</text>
<g transform="translate(236.4,456.0) rotate(-90)" font-size="3.8" fill="#555" font-family="Liberation Sans, sans-serif"><text x="0" y="-1.2">0</text><text x="0" y="3.6">-0.025</text></g>
<text x="248.0" y="471.1" font-size="10.0" text-anchor="middle" font-weight="normal" fill="#2a2a2a" transform="rotate(-90 248.0 467.5)" textLength="23.02" lengthAdjust="spacingAndGlyphs" stroke="#2a2a2a" stroke-width="0.14" font-family="Liberation Sans, sans-serif">38.56</text>
<g transform="translate(248.0,456.0) rotate(-90)" font-size="3.8" fill="#555" font-family="Liberation Sans, sans-serif"><text x="0" y="-1.2">0</text><text x="0" y="3.6">-0.25</text></g>
<text x="345.5" y="376.6" font-size="10.0" text-anchor="middle" font-weight="normal" fill="#2a2a2a" textLength="15.35" lengthAdjust="spacingAndGlyphs" stroke="#2a2a2a" stroke-width="0.14" font-family="Liberation Sans, sans-serif">181</text>
<line x1="318.6" y1="379.0" x2="373.2" y2="379.0" stroke="#3a3a3a" stroke-width="0.8"/>
<polygon points="318.6,379.0 322.8,377.7 322.8,380.3" fill="#3a3a3a"/>
<polygon points="373.2,379.0 369.0,380.3 369.0,377.7" fill="#3a3a3a"/>
<text x="345.5" y="387.9" font-size="7.5" text-anchor="middle" font-weight="normal" fill="#555" letter-spacing="0.5" font-family="Liberation Sans, sans-serif">CCLAIR</text>
<polyline points="324.0,412.0 324.0,395.6 404.0,395.6" fill="none" stroke="#3a3a3a" stroke-width="0.8"/>
<line x1="331.4" y1="398.8" x2="396.0" y2="398.8" stroke="#3a3a3a" stroke-width="0.8"/>
<line x1="331.4" y1="398.8" x2="331.4" y2="405.0" stroke="#3a3a3a" stroke-width="0.8"/>
<line x1="359.3" y1="398.8" x2="359.3" y2="404.0" stroke="#3a3a3a" stroke-width="0.8"/>
<line x1="366.3" y1="398.8" x2="366.3" y2="404.0" stroke="#3a3a3a" stroke-width="0.8"/>
<rect x="324.0" y="398.8" width="42.6" height="48.4" rx="7" fill="none" stroke="#3a3a3a" stroke-width="0.8"/>
<path d="M312.3,419 L337,404.6 Q345.3,402.8 353,404.2 Q372,408.5 376.5,417 Q379.8,425.9 376.5,434.8 Q372,443.3 353,447.6 Q345.3,449 337,447.2 L312.3,432.8 Z" fill="#fff" stroke="#3a3a3a" stroke-width="0.9"/>
<line x1="318.6" y1="375.0" x2="318.6" y2="426.0" stroke="#3a3a3a" stroke-width="0.8"/>
<line x1="373.2" y1="375.0" x2="373.2" y2="426.0" stroke="#3a3a3a" stroke-width="0.8"/>
<circle cx="345.5" cy="425.9" r="19.0" fill="none" stroke="#3a3a3a" stroke-width="1.3"/>
<circle cx="345.5" cy="425.9" r="4.5" fill="none" stroke="#3a3a3a" stroke-width="0.8"/>
<circle cx="345.5" cy="425.9" r="2.5" fill="none" stroke="#3a3a3a" stroke-width="0.6"/>
<circle cx="318.2" cy="425.9" r="2.6" fill="none" stroke="#3a3a3a" stroke-width="0.8"/>
<circle cx="372.4" cy="425.9" r="2.6" fill="none" stroke="#3a3a3a" stroke-width="0.8"/>
<line x1="305.0" y1="425.9" x2="410.0" y2="425.9" stroke="#3a3a3a" stroke-width="0.6" stroke-dasharray="3,2"/>
<line x1="345.5" y1="392.0" x2="345.5" y2="456.0" stroke="#3a3a3a" stroke-width="0.6" stroke-dasharray="3,2"/>
<polyline points="317.7,445.0 411.3,380.0 425.0,380.0" fill="none" stroke="#3a3a3a" stroke-width="0.8"/>
<polygon points="317.7,445.0 320.4,441.5 321.9,443.7" fill="#3a3a3a"/>
<text x="408.0" y="378.1" font-size="10.0" text-anchor="start" font-weight="normal" fill="#2a2a2a" textLength="22.92" lengthAdjust="spacingAndGlyphs" stroke="#2a2a2a" stroke-width="0.14" font-family="Liberation Sans, sans-serif">ф212</text>
<polyline points="338.5,407.7 364.5,465.7 385.3,465.7" fill="none" stroke="#3a3a3a" stroke-width="0.8"/>
<polygon points="338.5,407.7 341.4,411.0 339.0,412.1" fill="#3a3a3a"/>
<text x="368.0" y="464.5" font-size="10.0" text-anchor="start" font-weight="normal" fill="#2a2a2a" textLength="21.6" lengthAdjust="spacingAndGlyphs" stroke="#2a2a2a" stroke-width="0.14" font-family="Liberation Sans, sans-serif">ф148</text>
<text x="312.5" y="473.1" font-size="10.0" text-anchor="start" font-weight="normal" fill="#2a2a2a" textLength="39.9" lengthAdjust="spacingAndGlyphs" stroke="#2a2a2a" stroke-width="0.14" font-family="Liberation Sans, sans-serif">ф17.5,2孔</text>
<polyline points="305.0,474.7 358.5,474.7" fill="none" stroke="#3a3a3a" stroke-width="0.8"/>
<polyline points="305.0,498.6 305.0,474.7 318.0,429.0" fill="none" stroke="#3a3a3a" stroke-width="0.8"/>
<polygon points="318.0,429.0 318.1,433.4 315.6,432.7" fill="#3a3a3a"/>
<text x="318.6" y="497.0" font-size="10.0" text-anchor="start" font-weight="normal" fill="#2a2a2a" textLength="63.3" lengthAdjust="spacingAndGlyphs" stroke="#2a2a2a" stroke-width="0.14" font-family="Liberation Sans, sans-serif">ф35X0.5深,沉孔</text>
<line x1="305.0" y1="498.6" x2="386.2" y2="498.6" stroke="#3a3a3a" stroke-width="0.8"/>
<line x1="373.0" y1="398.0" x2="395.0" y2="398.0" stroke="#3a3a3a" stroke-width="0.8"/>
<line x1="385.0" y1="425.9" x2="410.0" y2="425.9" stroke="#3a3a3a" stroke-width="0.8"/>
<line x1="391.4" y1="398.0" x2="391.4" y2="425.9" stroke="#3a3a3a" stroke-width="0.8"/>
<polygon points="391.4,398.0 392.7,402.2 390.1,402.2" fill="#3a3a3a"/>
<polygon points="391.4,425.9 390.1,421.7 392.7,421.7" fill="#3a3a3a"/>
<text x="384.5" y="415.6" font-size="10.0" text-anchor="middle" font-weight="normal" fill="#2a2a2a" transform="rotate(-90 384.5 412.0)" textLength="17.91" lengthAdjust="spacingAndGlyphs" stroke="#2a2a2a" stroke-width="0.14" font-family="Liberation Sans, sans-serif">82.6</text>
<line x1="406.0" y1="395.5" x2="406.0" y2="425.9" stroke="#3a3a3a" stroke-width="0.8"/>
<polygon points="406.0,395.5 407.3,399.7 404.7,399.7" fill="#3a3a3a"/>
<polygon points="406.0,425.9 404.7,421.7 407.3,421.7" fill="#3a3a3a"/>
<text x="400.5" y="414.6" font-size="10.0" text-anchor="middle" font-weight="normal" fill="#666" transform="rotate(-90 400.5 411.0)" textLength="17.91" lengthAdjust="spacingAndGlyphs" stroke="#666" stroke-width="0.14" font-family="Liberation Sans, sans-serif">88.9</text>
<text x="485.0" y="364.8" font-size="10.0" text-anchor="start" font-weight="normal" fill="#2a2a2a" textLength="52.6" lengthAdjust="spacingAndGlyphs" stroke="#2a2a2a" stroke-width="0.14" font-family="Liberation Sans, sans-serif">出油口 ф25.4</text>
<polyline points="485.0,366.4 537.7,366.4 578.7,393.3" fill="none" stroke="#3a3a3a" stroke-width="0.8"/>
<text x="487.2" y="376.6" font-size="10.0" text-anchor="start" font-weight="normal" fill="#2a2a2a" textLength="51.8" lengthAdjust="spacingAndGlyphs" stroke="#2a2a2a" stroke-width="0.14" font-family="Liberation Sans, sans-serif">Outlet ф 25.4</text>
<text x="469.0" y="392.8" font-size="10.0" text-anchor="start" font-weight="normal" fill="#2a2a2a" textLength="93.8" lengthAdjust="spacingAndGlyphs" stroke="#2a2a2a" stroke-width="0.14" font-family="Liberation Sans, sans-serif">4-3/8-16UNC-2B,深19.1</text>
<line x1="464.0" y1="393.3" x2="569.3" y2="393.3" stroke="#3a3a3a" stroke-width="0.8"/>
<polygon points="569.3,393.3 565.1,394.6 565.1,392.0" fill="#3a3a3a"/>
<text x="452.2" y="404.6" font-size="10.0" text-anchor="start" font-weight="normal" fill="#2a2a2a" textLength="119" lengthAdjust="spacingAndGlyphs" stroke="#2a2a2a" stroke-width="0.14" font-family="Liberation Sans, sans-serif">4-3/8-16UNC-2B depth of 19.1</text>
<rect x="571.7" y="390.8" width="22" height="12.5" rx="3.5" fill="#fff" stroke="#3a3a3a" stroke-width="0.9" transform="rotate(42.4 582.7 397)"/>
<circle cx="579.6" cy="387.2" r="1.2" fill="#666" stroke="#3a3a3a" stroke-width="0.6"/>
<circle cx="573.5" cy="393.7" r="1.2" fill="#666" stroke="#3a3a3a" stroke-width="0.6"/>
<circle cx="592.2" cy="399.8" r="1.2" fill="#666" stroke="#3a3a3a" stroke-width="0.6"/>
<circle cx="586.1" cy="405.9" r="1.2" fill="#666" stroke="#3a3a3a" stroke-width="0.6"/>
<circle cx="582.9" cy="397.0" r="3.3" fill="none" stroke="#3a3a3a" stroke-width="0.6"/>
<circle cx="582.9" cy="397.0" r="0.6" fill="#3a3a3a" stroke="#3a3a3a" stroke-width="0.3"/>
<line x1="582.4" y1="384.9" x2="592.7" y2="374.6" stroke="#3a3a3a" stroke-width="0.8"/>
<line x1="593.6" y1="398.0" x2="604.8" y2="387.2" stroke="#3a3a3a" stroke-width="0.8"/>
<line x1="593.6" y1="376.5" x2="603.4" y2="386.7" stroke="#3a3a3a" stroke-width="0.8"/>
<polygon points="593.6,376.5 597.5,378.6 595.6,380.4" fill="#3a3a3a"/>
<polygon points="603.4,386.7 599.5,384.6 601.4,382.8" fill="#3a3a3a"/>
<text x="603.9" y="379.1" font-size="10.0" text-anchor="middle" font-weight="normal" fill="#555" transform="rotate(55 603.9 375.5)" textLength="17.91" lengthAdjust="spacingAndGlyphs" stroke="#555" stroke-width="0.14" font-family="Liberation Sans, sans-serif">52.4</text>
<line x1="589.9" y1="409.2" x2="598.3" y2="419.4" stroke="#3a3a3a" stroke-width="0.8"/>
<line x1="594.5" y1="401.7" x2="604.8" y2="412.9" stroke="#3a3a3a" stroke-width="0.8"/>
<line x1="597.3" y1="420.4" x2="619.8" y2="398.0" stroke="#3a3a3a" stroke-width="0.8"/>
<polygon points="598.3,419.4 600.4,415.5 602.2,417.3" fill="#3a3a3a"/>
<polygon points="604.8,413.0 602.7,416.9 600.9,415.1" fill="#3a3a3a"/>
<text x="613.7" y="397.8" font-size="10.0" text-anchor="middle" font-weight="normal" fill="#2a2a2a" transform="rotate(-55 613.7 394.2)" textLength="17.91" lengthAdjust="spacingAndGlyphs" stroke="#2a2a2a" stroke-width="0.14" font-family="Liberation Sans, sans-serif">26.2</text>
<polyline points="579.6,400.8 561.9,419.4 554.4,423.4" fill="none" stroke="#3a3a3a" stroke-width="0.6" stroke-dasharray="3,2"/>
<line x1="554.4" y1="423.4" x2="604.8" y2="423.4" stroke="#3a3a3a" stroke-width="0.6" stroke-dasharray="3,2"/>
<text x="497.0" y="429.8" font-size="10.0" text-anchor="middle" font-weight="normal" fill="#2a2a2a" textLength="15.34" lengthAdjust="spacingAndGlyphs" stroke="#2a2a2a" stroke-width="0.14" font-family="Liberation Sans, sans-serif">X向</text>
<line x1="488.6" y1="432.4" x2="505.4" y2="432.4" stroke="#3a3a3a" stroke-width="0.8"/>
<text x="476.0" y="443.8" font-size="10.0" text-anchor="start" font-weight="normal" fill="#2a2a2a" textLength="43.4" lengthAdjust="spacingAndGlyphs" stroke="#2a2a2a" stroke-width="0.14" font-family="Liberation Sans, sans-serif">View line X</text>
<polyline points="549.3,445.0 549.3,434.5 591.8,434.5 591.8,445.0" fill="none" stroke="#3a3a3a" stroke-width="0.8"/>
<line x1="557.4" y1="434.5" x2="557.4" y2="445.0" stroke="#3a3a3a" stroke-width="0.8"/>
<line x1="585.2" y1="434.5" x2="585.2" y2="445.0" stroke="#3a3a3a" stroke-width="0.8"/>
<path d="M549.3,450 C542,452 537.6,458 537.6,464.6 C537.6,470 542,475 549.3,477 L549.3,486.6 L591.8,486.6 L591.8,478 C599,476 605,470 605,464.6 C605,458 599,452 591.8,450" fill="none" stroke="#3a3a3a" stroke-width="0.9"/>
<line x1="549.3" y1="445.0" x2="549.3" y2="450.0" stroke="#3a3a3a" stroke-width="0.8"/>
<line x1="591.8" y1="445.0" x2="591.8" y2="450.0" stroke="#3a3a3a" stroke-width="0.8"/>
<rect x="555.4" y="447.0" width="38" height="30" fill="none" stroke="#3a3a3a" stroke-width="0.9" transform="rotate(43 574.4 462)"/>
<rect x="554.0" y="457.0" width="26" height="18" fill="none" stroke="#3a3a3a" stroke-width="0.7" transform="rotate(43 567 466)"/>
<circle cx="554.5" cy="448.5" r="4.2" fill="#fff" stroke="#3a3a3a" stroke-width="0.9"/>
<circle cx="554.5" cy="448.5" r="2.3" fill="none" stroke="#3a3a3a" stroke-width="0.7"/>
<circle cx="570.6" cy="444.8" r="4.2" fill="#fff" stroke="#3a3a3a" stroke-width="0.9"/>
<circle cx="570.6" cy="444.8" r="2.3" fill="none" stroke="#3a3a3a" stroke-width="0.7"/>
<circle cx="550.8" cy="464.6" r="4.2" fill="#fff" stroke="#3a3a3a" stroke-width="0.9"/>
<circle cx="550.8" cy="464.6" r="2.3" fill="none" stroke="#3a3a3a" stroke-width="0.7"/>
<circle cx="590.4" cy="464.6" r="4.2" fill="#fff" stroke="#3a3a3a" stroke-width="0.9"/>
<circle cx="590.4" cy="464.6" r="2.3" fill="none" stroke="#3a3a3a" stroke-width="0.7"/>
<circle cx="554.5" cy="481.5" r="4.2" fill="#fff" stroke="#3a3a3a" stroke-width="0.9"/>
<circle cx="554.5" cy="481.5" r="2.3" fill="none" stroke="#3a3a3a" stroke-width="0.7"/>
<circle cx="569.9" cy="484.4" r="4.2" fill="#fff" stroke="#3a3a3a" stroke-width="0.9"/>
<circle cx="569.9" cy="484.4" r="2.3" fill="none" stroke="#3a3a3a" stroke-width="0.7"/>
<circle cx="586.7" cy="480.7" r="4.2" fill="#fff" stroke="#3a3a3a" stroke-width="0.9"/>
<circle cx="586.7" cy="480.7" r="2.3" fill="none" stroke="#3a3a3a" stroke-width="0.7"/>
<circle cx="541.7" cy="464.6" r="1.6" fill="none" stroke="#3a3a3a" stroke-width="0.6"/>
<circle cx="600.4" cy="464.6" r="1.6" fill="none" stroke="#3a3a3a" stroke-width="0.6"/>
<line x1="521.5" y1="464.6" x2="610.0" y2="464.6" stroke="#3a3a3a" stroke-width="0.6" stroke-dasharray="3,2"/>
<line x1="570.6" y1="434.0" x2="570.6" y2="490.0" stroke="#3a3a3a" stroke-width="0.6" stroke-dasharray="3,2"/>
<polyline points="590.4,445.5 606.5,429.4" fill="none" stroke="#3a3a3a" stroke-width="0.6" stroke-dasharray="3,2"/>
<path d="M602.1,433 Q616,447 615.3,465.3" fill="none" stroke="#3a3a3a" stroke-width="0.7"/>
<polygon points="615.3,465.3 614.1,461.1 616.7,461.1" fill="#3a3a3a"/>
<polygon points="602.1,433.0 606.0,435.1 604.2,436.9" fill="#3a3a3a"/>
<text x="619.0" y="446.9" font-size="10.0" text-anchor="middle" font-weight="normal" fill="#2a2a2a" transform="rotate(70 619.0 443.3)" textLength="13.91" lengthAdjust="spacingAndGlyphs" stroke="#2a2a2a" stroke-width="0.14" font-family="Liberation Sans, sans-serif">45°</text>
<line x1="521.5" y1="466.0" x2="549.0" y2="466.0" stroke="#3a3a3a" stroke-width="0.8"/>
<line x1="521.5" y1="489.5" x2="549.0" y2="489.5" stroke="#3a3a3a" stroke-width="0.8"/>
<line x1="525.9" y1="466.0" x2="525.9" y2="489.5" stroke="#3a3a3a" stroke-width="0.8"/>
<polygon points="525.9,466.0 527.2,470.2 524.6,470.2" fill="#3a3a3a"/>
<polygon points="525.9,489.5 524.6,485.3 527.2,485.3" fill="#3a3a3a"/>
<text x="519.8" y="481.3" font-size="10.0" text-anchor="middle" font-weight="normal" fill="#2a2a2a" transform="rotate(-90 519.8 477.7)" textLength="10.23" lengthAdjust="spacingAndGlyphs" stroke="#2a2a2a" stroke-width="0.14" font-family="Liberation Sans, sans-serif">74</text>
<line x1="549.3" y1="487.0" x2="549.3" y2="508.0" stroke="#3a3a3a" stroke-width="0.8"/>
<line x1="591.8" y1="487.0" x2="591.8" y2="508.0" stroke="#3a3a3a" stroke-width="0.8"/>
<text x="573.5" y="504.1" font-size="10.0" text-anchor="middle" font-weight="normal" fill="#2a2a2a" textLength="15.35" lengthAdjust="spacingAndGlyphs" stroke="#2a2a2a" stroke-width="0.14" font-family="Liberation Sans, sans-serif">148</text>
<line x1="549.3" y1="504.9" x2="591.8" y2="504.9" stroke="#3a3a3a" stroke-width="0.8"/>
<polygon points="549.3,504.9 553.5,503.6 553.5,506.2" fill="#3a3a3a"/>
<polygon points="591.8,504.9 587.6,506.2 587.6,503.6" fill="#3a3a3a"/>
<line x1="599.9" y1="495.4" x2="617.5" y2="474.9" stroke="#3a3a3a" stroke-width="0.8"/>
<polygon points="599.9,495.4 601.6,491.3 603.6,493.0" fill="#3a3a3a"/>
<polygon points="617.5,474.9 615.8,479.0 613.8,477.3" fill="#3a3a3a"/>
<line x1="588.0" y1="483.0" x2="603.0" y2="499.0" stroke="#3a3a3a" stroke-width="0.8"/>
<line x1="600.0" y1="468.0" x2="621.0" y2="479.0" stroke="#3a3a3a" stroke-width="0.8"/>
<text x="605.0" y="485.6" font-size="10.0" text-anchor="middle" font-weight="normal" fill="#2a2a2a" transform="rotate(-50 605.0 482.0)" textLength="17.91" lengthAdjust="spacingAndGlyphs" stroke="#2a2a2a" stroke-width="0.14" font-family="Liberation Sans, sans-serif">74.7</text>
<text x="95.6" y="583.5" font-size="9.7" text-anchor="start" font-weight="normal" fill="#2a2a2a" textLength="91.9" lengthAdjust="spacingAndGlyphs" stroke="#2a2a2a" stroke-width="0.14" font-family="Liberation Sans, sans-serif">4-5/8-11UNC-2B,深31.8</text>
<polyline points="85.2,585.3 199.6,585.3 213.4,609.5" fill="none" stroke="#3a3a3a" stroke-width="0.8"/>
<polygon points="213.4,609.5 210.2,606.5 212.4,605.2" fill="#3a3a3a"/>
<text x="226.3" y="583.5" font-size="9.7" text-anchor="middle" font-weight="normal" fill="#2a2a2a" textLength="16.61" lengthAdjust="spacingAndGlyphs" stroke="#2a2a2a" stroke-width="0.14" font-family="Liberation Sans, sans-serif">69.9</text>
<line x1="216.2" y1="586.0" x2="236.0" y2="586.0" stroke="#3a3a3a" stroke-width="0.8"/>
<polygon points="216.2,586.0 220.4,584.7 220.4,587.3" fill="#3a3a3a"/>
<polygon points="236.0,586.0 231.8,587.3 231.8,584.7" fill="#3a3a3a"/>
<line x1="216.2" y1="579.0" x2="216.2" y2="609.0" stroke="#3a3a3a" stroke-width="0.8"/>
<line x1="236.0" y1="579.0" x2="236.0" y2="609.0" stroke="#3a3a3a" stroke-width="0.8"/>
<text x="280.2" y="583.5" font-size="9.7" text-anchor="middle" font-weight="normal" fill="#2a2a2a" textLength="16.61" lengthAdjust="spacingAndGlyphs" stroke="#2a2a2a" stroke-width="0.14" font-family="Liberation Sans, sans-serif">35.7</text>
<line x1="244.0" y1="586.0" x2="253.3" y2="586.0" stroke="#3a3a3a" stroke-width="0.8"/>
<polygon points="253.3,586.0 249.1,587.3 249.1,584.7" fill="#3a3a3a"/>
<line x1="267.2" y1="586.0" x2="288.0" y2="586.0" stroke="#3a3a3a" stroke-width="0.8"/>
<polygon points="267.2,586.0 271.4,584.7 271.4,587.3" fill="#3a3a3a"/>
<line x1="253.3" y1="580.0" x2="253.3" y2="615.0" stroke="#3a3a3a" stroke-width="0.8"/>
<line x1="267.2" y1="580.0" x2="267.2" y2="599.0" stroke="#3a3a3a" stroke-width="0.8"/>
<text x="298.5" y="601.0" font-size="9.7" text-anchor="start" font-weight="normal" fill="#2a2a2a" textLength="27.2" lengthAdjust="spacingAndGlyphs" stroke="#2a2a2a" stroke-width="0.14" font-family="Liberation Sans, sans-serif">86型轴</text>
<polyline points="295.9,603.3 330.0,603.3" fill="none" stroke="#3a3a3a" stroke-width="0.8"/>
<line x1="295.9" y1="603.3" x2="286.8" y2="620.9" stroke="#3a3a3a" stroke-width="0.8"/>
<polygon points="286.8,620.9 287.5,616.6 289.9,617.7" fill="#3a3a3a"/>
<line x1="166.0" y1="611.2" x2="187.0" y2="611.2" stroke="#3a3a3a" stroke-width="0.8"/>
<line x1="166.0" y1="648.0" x2="186.0" y2="648.0" stroke="#3a3a3a" stroke-width="0.8"/>
<line x1="170.8" y1="611.2" x2="170.8" y2="648.0" stroke="#3a3a3a" stroke-width="0.8"/>
<polygon points="170.8,611.2 172.1,615.4 169.5,615.4" fill="#3a3a3a"/>
<polygon points="170.8,648.0 169.5,643.8 172.1,643.8" fill="#3a3a3a"/>
<text x="163.5" y="632.0" font-size="9.7" text-anchor="middle" font-weight="normal" fill="#2a2a2a" transform="rotate(-90 163.5 628.5)" textLength="21.36" lengthAdjust="spacingAndGlyphs" stroke="#2a2a2a" stroke-width="0.14" font-family="Liberation Sans, sans-serif">120.7</text>
<line x1="275.6" y1="618.8" x2="308.7" y2="618.8" stroke="#3a3a3a" stroke-width="0.8"/>
<line x1="275.6" y1="640.1" x2="308.7" y2="640.1" stroke="#3a3a3a" stroke-width="0.8"/>
<line x1="307.1" y1="618.8" x2="307.1" y2="640.1" stroke="#3a3a3a" stroke-width="0.8"/>
<polygon points="307.1,618.8 308.4,623.0 305.8,623.0" fill="#3a3a3a"/>
<polygon points="307.1,640.1 305.8,635.9 308.4,635.9" fill="#3a3a3a"/>
<text x="300.7" y="633.0" font-size="9.7" text-anchor="middle" font-weight="normal" fill="#2a2a2a" transform="rotate(90 300.7 629.5)" textLength="16.61" lengthAdjust="spacingAndGlyphs" stroke="#2a2a2a" stroke-width="0.14" font-family="Liberation Sans, sans-serif">69.9</text>
<line x1="175.0" y1="628.6" x2="312.0" y2="628.6" stroke="#3a3a3a" stroke-width="0.6" stroke-dasharray="3,2"/>
<line x1="225.6" y1="604.0" x2="225.6" y2="656.0" stroke="#3a3a3a" stroke-width="0.6" stroke-dasharray="3,2"/>
<line x1="202.4" y1="607.0" x2="268.0" y2="607.0" stroke="#3a3a3a" stroke-width="0.8"/>
<line x1="206.6" y1="653.2" x2="268.0" y2="653.2" stroke="#3a3a3a" stroke-width="0.8"/>
<polyline points="202.4,607.0 202.4,615.0 206.6,615.0 206.6,608.0" fill="none" stroke="#3a3a3a" stroke-width="0.7"/>
<path d="M187,611.2 L202.4,611.2 M187,611.2 L188,614 L187,618 L188.5,622 L187,628 L187,651.8" fill="none" stroke="#3a3a3a" stroke-width="0.8"/>
<line x1="199.6" y1="611.2" x2="199.6" y2="651.0" stroke="#3a3a3a" stroke-width="0.8"/>
<path d="M200,619.6 Q210,618 214.5,608.4 M200,638.3 Q208,640 212,646" fill="none" stroke="#3a3a3a" stroke-width="0.7"/>
<line x1="203.0" y1="648.0" x2="203.0" y2="653.2" stroke="#3a3a3a" stroke-width="0.6"/>
<line x1="206.6" y1="646.0" x2="206.6" y2="653.2" stroke="#3a3a3a" stroke-width="0.6"/>
<path d="M214.5,608.4 L237.9,608.4 Q246,617 244.9,629 Q246,641 237.9,650.9 L214.5,650.9 Q206,641 207.5,629 Q206,617 214.5,608.4 Z" fill="#fff" stroke="#3a3a3a" stroke-width="0.9"/>
<circle cx="225.8" cy="629.4" r="12.6" fill="none" stroke="#3a3a3a" stroke-width="0.8"/>
<circle cx="216.0" cy="611.2" r="2.2" fill="none" stroke="#3a3a3a" stroke-width="1.2"/>
<circle cx="235.1" cy="611.2" r="2.2" fill="none" stroke="#3a3a3a" stroke-width="1.2"/>
<circle cx="216.4" cy="647.6" r="2.2" fill="none" stroke="#3a3a3a" stroke-width="1.2"/>
<circle cx="235.1" cy="647.6" r="2.2" fill="none" stroke="#3a3a3a" stroke-width="1.2"/>
<path d="M188.5,637.3 L197,637.3 Q198.7,637.3 198.7,639 L198.7,649 Q198.7,651.8 196,651.8 L189,651.8 Q186,651.8 186,649 L186,640 Q186,637.3 188.5,637.3 Z" fill="#fff" stroke="#3a3a3a" stroke-width="0.8"/>
<circle cx="192.1" cy="645.3" r="2.8" fill="none" stroke="#3a3a3a" stroke-width="0.7"/>
<circle cx="188.4" cy="639.5" r="0.9" fill="#555" stroke="#3a3a3a" stroke-width="0.4"/>
<circle cx="196.2" cy="639.5" r="0.9" fill="#555" stroke="#3a3a3a" stroke-width="0.4"/>
<circle cx="188.4" cy="650.0" r="0.9" fill="#555" stroke="#3a3a3a" stroke-width="0.4"/>
<circle cx="196.2" cy="650.0" r="0.9" fill="#555" stroke="#3a3a3a" stroke-width="0.4"/>
<rect x="244.5" y="614.0" width="5.5" height="30.0" rx="0" fill="none" stroke="#3a3a3a" stroke-width="0.7"/>
<line x1="249.8" y1="607.0" x2="249.8" y2="653.2" stroke="#3a3a3a" stroke-width="1.1"/>
<rect x="251.6" y="614.5" width="17.6" height="28.8" rx="2.5" fill="none" stroke="#3a3a3a" stroke-width="0.8"/>
<circle cx="260.1" cy="628.9" r="5.9" fill="none" stroke="#3a3a3a" stroke-width="0.8"/>
<circle cx="254.5" cy="619.0" r="1.8" fill="none" stroke="#3a3a3a" stroke-width="1.1"/>
<circle cx="264.9" cy="619.0" r="1.8" fill="none" stroke="#3a3a3a" stroke-width="1.1"/>
<circle cx="254.5" cy="639.6" r="1.8" fill="none" stroke="#3a3a3a" stroke-width="1.1"/>
<circle cx="264.9" cy="639.6" r="1.8" fill="none" stroke="#3a3a3a" stroke-width="1.1"/>
<path d="M267.6,665 L267.6,601 Q267.6,599 270,599 Q272.4,599 272.4,601 L272.4,665" fill="none" stroke="#3a3a3a" stroke-width="0.8"/>
<rect x="272.4" y="610.8" width="3.2" height="37.2" rx="0" fill="none" stroke="#3a3a3a" stroke-width="0.8"/>
<rect x="275.6" y="624.1" width="19.2" height="10.2" rx="0" fill="none" stroke="#3a3a3a" stroke-width="0.8"/>
<rect x="278.0" y="627.6" width="16.0" height="3.2" rx="0" fill="none" stroke="#3a3a3a" stroke-width="0.6"/>
<text x="107.7" y="671.9" font-size="9.7" text-anchor="start" font-weight="normal" fill="#2a2a2a" textLength="52" lengthAdjust="spacingAndGlyphs" stroke="#2a2a2a" stroke-width="0.14" font-family="Liberation Sans, sans-serif">进油口 ф88.9</text>
<polyline points="85.0,673.6 165.0,673.6 199.6,639.0" fill="none" stroke="#3a3a3a" stroke-width="0.8"/>
<polygon points="199.6,639.0 197.5,642.9 195.7,641.1" fill="#3a3a3a"/>
<text x="194.4" y="671.9" font-size="9.7" text-anchor="start" font-weight="normal" fill="#2a2a2a" textLength="50.2" lengthAdjust="spacingAndGlyphs" stroke="#2a2a2a" stroke-width="0.14" font-family="Liberation Sans, sans-serif">出油口 ф38.1</text>
<polyline points="189.2,673.6 249.8,673.6 259.5,639.0" fill="none" stroke="#3a3a3a" stroke-width="0.8"/>
<line x1="189.2" y1="673.6" x2="213.4" y2="639.0" stroke="#3a3a3a" stroke-width="0.8"/>
<polygon points="213.4,639.0 212.1,643.2 209.9,641.7" fill="#3a3a3a"/>
<polygon points="259.5,639.0 259.6,643.4 257.1,642.7" fill="#3a3a3a"/>
<line x1="268.9" y1="665.0" x2="268.9" y2="677.0" stroke="#3a3a3a" stroke-width="0.8"/>
<line x1="274.0" y1="665.0" x2="274.0" y2="677.0" stroke="#3a3a3a" stroke-width="0.8"/>
<line x1="261.0" y1="673.0" x2="268.9" y2="673.0" stroke="#3a3a3a" stroke-width="0.8"/>
<polygon points="268.9,673.0 264.7,674.3 264.7,671.7" fill="#3a3a3a"/>
<line x1="274.0" y1="673.0" x2="290.0" y2="673.0" stroke="#3a3a3a" stroke-width="0.8"/>
<polygon points="274.0,673.0 278.2,671.7 278.2,674.3" fill="#3a3a3a"/>
<text x="279.5" y="671.9" font-size="9.7" text-anchor="start" font-weight="normal" fill="#2a2a2a" textLength="9.49" lengthAdjust="spacingAndGlyphs" stroke="#2a2a2a" stroke-width="0.14" font-family="Liberation Sans, sans-serif">16</text>
<text x="152.8" y="699.7" font-size="9.7" text-anchor="start" font-weight="normal" fill="#2a2a2a" textLength="97" lengthAdjust="spacingAndGlyphs" stroke="#2a2a2a" stroke-width="0.14" font-family="Liberation Sans, sans-serif">4-1/2-131UNC-2B,深23.8</text>
<polyline points="147.6,701.4 253.3,701.4 266.0,639.0" fill="none" stroke="#3a3a3a" stroke-width="0.8"/>
<polygon points="266.0,639.0 266.4,643.4 263.9,642.8" fill="#3a3a3a"/>
<text x="430.9" y="570.2" font-size="9.0" text-anchor="middle" font-weight="normal" fill="#2a2a2a" textLength="8.61" lengthAdjust="spacingAndGlyphs" stroke="#2a2a2a" stroke-width="0.14" font-family="Liberation Sans, sans-serif">62</text>
<line x1="420.2" y1="571.3" x2="438.3" y2="571.3" stroke="#3a3a3a" stroke-width="0.8"/>
<polygon points="420.2,571.3 424.4,570.0 424.4,572.6" fill="#3a3a3a"/>
<polygon points="438.3,571.3 434.1,572.6 434.1,570.0" fill="#3a3a3a"/>
<text x="426.6" y="583.0" font-size="9.0" text-anchor="middle" font-weight="normal" fill="#2a2a2a" textLength="8.61" lengthAdjust="spacingAndGlyphs" stroke="#2a2a2a" stroke-width="0.14" font-family="Liberation Sans, sans-serif">19</text>
<line x1="420.2" y1="585.1" x2="432.4" y2="585.1" stroke="#3a3a3a" stroke-width="0.8"/>
<polygon points="420.2,585.1 424.4,583.8 424.4,586.4" fill="#3a3a3a"/>
<polygon points="432.4,585.1 428.2,586.4 428.2,583.8" fill="#3a3a3a"/>
<text x="446.8" y="583.0" font-size="9.0" text-anchor="middle" font-weight="normal" fill="#2a2a2a" textLength="8.61" lengthAdjust="spacingAndGlyphs" stroke="#2a2a2a" stroke-width="0.14" font-family="Liberation Sans, sans-serif">68</text>
<line x1="439.4" y1="585.1" x2="454.3" y2="585.1" stroke="#3a3a3a" stroke-width="0.8"/>
<polygon points="439.4,585.1 443.6,583.8 443.6,586.4" fill="#3a3a3a"/>
<polygon points="454.3,585.1 450.1,586.4 450.1,583.8" fill="#3a3a3a"/>
<line x1="420.2" y1="565.0" x2="420.2" y2="601.2" stroke="#3a3a3a" stroke-width="0.8"/>
<line x1="432.4" y1="578.0" x2="432.4" y2="598.0" stroke="#3a3a3a" stroke-width="0.8"/>
<line x1="438.3" y1="565.0" x2="438.3" y2="598.0" stroke="#3a3a3a" stroke-width="0.8"/>
<line x1="454.3" y1="578.0" x2="454.3" y2="621.5" stroke="#3a3a3a" stroke-width="0.8"/>
<line x1="433.2" y1="598.0" x2="438.5" y2="598.0" stroke="#3a3a3a" stroke-width="0.8"/>
<path d="M433.2,598 L433.2,652.5 Q433.2,654 431.7,654 L401.2,654 L401.2,657.7 L438.5,657.7 L438.5,598" fill="none" stroke="#3a3a3a" stroke-width="0.8"/>
<polyline points="410.3,603.3 412.4,601.2 430.5,601.2 431.0,606.0 433.2,608.7" fill="none" stroke="#3a3a3a" stroke-width="0.8"/>
<path d="M410.3,605.5 L427.3,605.5 Q430,605.5 430,608.5 L430,639" fill="none" stroke="#3a3a3a" stroke-width="0.8"/>
<path d="M410.3,603.3 Q405,612 403.3,619.9 L397.5,649.2 L397.5,651.3 L415.6,651.3" fill="none" stroke="#3a3a3a" stroke-width="0.8"/>
<line x1="410.3" y1="605.5" x2="410.3" y2="651.3" stroke="#3a3a3a" stroke-width="0.8"/>
<path d="M433.7,639 Q425,649 414.5,651.3" fill="none" stroke="#3a3a3a" stroke-width="0.8"/>
<rect x="403.3" y="623.0" width="12.3" height="9.1" rx="0" fill="none" stroke="#3a3a3a" stroke-width="0.8"/>
<rect x="415.6" y="621.5" width="11.7" height="12.2" rx="0" fill="none" stroke="#3a3a3a" stroke-width="0.8"/>
<rect x="438.5" y="621.5" width="16.5" height="11.7" rx="0" fill="none" stroke="#3a3a3a" stroke-width="0.8"/>
<line x1="398.0" y1="627.3" x2="460.0" y2="627.3" stroke="#3a3a3a" stroke-width="0.6" stroke-dasharray="3,2"/>
<line x1="406.3" y1="658.0" x2="406.3" y2="680.0" stroke="#3a3a3a" stroke-width="0.8"/>
<line x1="429.8" y1="658.0" x2="429.8" y2="680.0" stroke="#3a3a3a" stroke-width="0.8"/>
<line x1="438.3" y1="658.0" x2="438.3" y2="695.0" stroke="#3a3a3a" stroke-width="0.8"/>
<line x1="402.0" y1="658.0" x2="402.0" y2="695.0" stroke="#3a3a3a" stroke-width="0.8"/>
<text x="417.0" y="674.2" font-size="9.0" text-anchor="middle" font-weight="normal" fill="#2a2a2a" textLength="15.06" lengthAdjust="spacingAndGlyphs" stroke="#2a2a2a" stroke-width="0.14" font-family="Liberation Sans, sans-serif">76.2</text>
<line x1="406.3" y1="676.9" x2="429.8" y2="676.9" stroke="#3a3a3a" stroke-width="0.8"/>
<polygon points="406.3,676.9 410.5,675.6 410.5,678.2" fill="#3a3a3a"/>
<polygon points="429.8,676.9 425.6,678.2 425.6,675.6" fill="#3a3a3a"/>
<text x="446.8" y="674.2" font-size="9.0" text-anchor="middle" font-weight="normal" fill="#2a2a2a" textLength="8.61" lengthAdjust="spacingAndGlyphs" stroke="#2a2a2a" stroke-width="0.14" font-family="Liberation Sans, sans-serif">38</text>
<line x1="438.3" y1="676.9" x2="455.0" y2="676.9" stroke="#3a3a3a" stroke-width="0.8"/>
<polygon points="438.3,676.9 442.5,675.6 442.5,678.2" fill="#3a3a3a"/>
<text x="421.3" y="689.2" font-size="9.0" text-anchor="middle" font-weight="normal" fill="#2a2a2a" textLength="12.91" lengthAdjust="spacingAndGlyphs" stroke="#2a2a2a" stroke-width="0.14" font-family="Liberation Sans, sans-serif">132</text>
<line x1="402.0" y1="691.8" x2="438.3" y2="691.8" stroke="#3a3a3a" stroke-width="0.8"/>
<polygon points="402.0,691.8 406.2,690.5 406.2,693.1" fill="#3a3a3a"/>
<polygon points="438.3,691.8 434.1,693.1 434.1,690.5" fill="#3a3a3a"/>
<text x="482.0" y="666.2" font-size="9.0" text-anchor="start" font-weight="normal" fill="#2a2a2a" textLength="39.5" lengthAdjust="spacingAndGlyphs" stroke="#2a2a2a" stroke-width="0.14" font-family="Liberation Sans, sans-serif">ф17.5,4孔</text>
<line x1="470.3" y1="667.3" x2="523.7" y2="667.3" stroke="#3a3a3a" stroke-width="0.8"/>
<text x="453.3" y="695.6" font-size="9.0" text-anchor="start" font-weight="normal" fill="#2a2a2a" textLength="66.1" lengthAdjust="spacingAndGlyphs" stroke="#2a2a2a" stroke-width="0.14" font-family="Liberation Sans, sans-serif">ф35 x 0.5深 沉孔</text>
<polyline points="442.6,698.2 521.5,698.2 527.0,625.3 531.0,630.0" fill="none" stroke="#3a3a3a" stroke-width="0.8"/>
<polyline points="543.0,587.6 543.0,570.6 594.6,570.6 594.6,587.6" fill="none" stroke="#3a3a3a" stroke-width="0.8"/>
<polyline points="553.2,578.0 553.2,573.2 584.4,573.2 584.4,578.0" fill="none" stroke="#3a3a3a" stroke-width="0.7"/>
<line x1="543.0" y1="578.0" x2="594.6" y2="578.0" stroke="#3a3a3a" stroke-width="0.7"/>
<rect x="542.7" y="575.7" width="52.5" height="52.5" rx="11" fill="#fff" stroke="#3a3a3a" stroke-width="1.0" transform="rotate(45 569 602)"/>
<circle cx="569.0" cy="602.0" r="16.2" fill="none" stroke="#3a3a3a" stroke-width="0.8"/>
<circle cx="569.0" cy="602.0" r="5.4" fill="none" stroke="#3a3a3a" stroke-width="0.8"/>
<circle cx="569.0" cy="602.0" r="3.3" fill="none" stroke="#3a3a3a" stroke-width="0.7"/>
<circle cx="569.0" cy="575.6" r="2.0" fill="none" stroke="#3a3a3a" stroke-width="1.3"/>
<circle cx="569.0" cy="629.4" r="2.0" fill="none" stroke="#3a3a3a" stroke-width="1.3"/>
<circle cx="541.6" cy="602.0" r="2.0" fill="none" stroke="#3a3a3a" stroke-width="1.3"/>
<circle cx="596.6" cy="602.0" r="2.0" fill="none" stroke="#3a3a3a" stroke-width="1.3"/>
<line x1="569.0" y1="568.0" x2="569.0" y2="637.0" stroke="#3a3a3a" stroke-width="0.6" stroke-dasharray="3,2"/>
<line x1="533.0" y1="602.0" x2="640.0" y2="602.0" stroke="#3a3a3a" stroke-width="0.6" stroke-dasharray="3,2"/>
<polyline points="536.5,606.0 528.0,629.8" fill="none" stroke="#3a3a3a" stroke-width="0.8"/>
<polyline points="601.5,606.0 610.8,629.8" fill="none" stroke="#3a3a3a" stroke-width="0.8"/>
<line x1="529.0" y1="634.8" x2="654.0" y2="634.8" stroke="#3a3a3a" stroke-width="0.8"/>
<polyline points="528.0,634.8 528.0,629.8 543.6,629.8 543.6,634.8" fill="none" stroke="#3a3a3a" stroke-width="0.8"/>
<polyline points="594.4,634.8 594.4,629.8 609.8,629.8 609.8,634.8" fill="none" stroke="#3a3a3a" stroke-width="0.8"/>
<line x1="595.0" y1="570.4" x2="654.0" y2="570.4" stroke="#3a3a3a" stroke-width="0.8"/>
<line x1="652.4" y1="570.4" x2="652.4" y2="634.8" stroke="#3a3a3a" stroke-width="0.8"/>
<polygon points="652.4,570.4 653.7,574.6 651.1,574.6" fill="#3a3a3a"/>
<polygon points="652.4,634.8 651.1,630.6 653.7,630.6" fill="#3a3a3a"/>
<text x="645.5" y="605.8" font-size="9.0" text-anchor="middle" font-weight="normal" fill="#2a2a2a" transform="rotate(-90 645.5 602.6)" textLength="12.91" lengthAdjust="spacingAndGlyphs" stroke="#2a2a2a" stroke-width="0.14" font-family="Liberation Sans, sans-serif">216</text>
<line x1="637.0" y1="602.6" x2="637.0" y2="634.8" stroke="#3a3a3a" stroke-width="0.8"/>
<polygon points="637.0,602.6 638.3,606.8 635.7,606.8" fill="#3a3a3a"/>
<polygon points="637.0,634.8 635.7,630.6 638.3,630.6" fill="#3a3a3a"/>
<text x="630.2" y="622.8" font-size="9.0" text-anchor="middle" font-weight="normal" fill="#2a2a2a" transform="rotate(-90 630.2 619.6)" textLength="19.37" lengthAdjust="spacingAndGlyphs" stroke="#2a2a2a" stroke-width="0.14" font-family="Liberation Sans, sans-serif">109.5</text>
<line x1="623.0" y1="622.6" x2="623.0" y2="650.0" stroke="#3a3a3a" stroke-width="0.8"/>
<polygon points="623.0,634.8 624.3,639.0 621.7,639.0" fill="#3a3a3a"/>
<line x1="609.0" y1="622.6" x2="626.0" y2="622.6" stroke="#3a3a3a" stroke-width="0.8"/>
<text x="617.7" y="648.9" font-size="9.0" text-anchor="middle" font-weight="normal" fill="#2a2a2a" transform="rotate(-90 617.7 645.7)" textLength="8.61" lengthAdjust="spacingAndGlyphs" stroke="#2a2a2a" stroke-width="0.14" font-family="Liberation Sans, sans-serif">16</text>
<line x1="543.6" y1="635.0" x2="543.6" y2="652.0" stroke="#3a3a3a" stroke-width="0.8"/>
<line x1="594.4" y1="635.0" x2="594.4" y2="652.0" stroke="#3a3a3a" stroke-width="0.8"/>
<text x="569.4" y="647.1" font-size="9.0" text-anchor="middle" font-weight="normal" fill="#2a2a2a" textLength="12.91" lengthAdjust="spacingAndGlyphs" stroke="#2a2a2a" stroke-width="0.14" font-family="Liberation Sans, sans-serif">163</text>
<line x1="543.6" y1="648.4" x2="594.4" y2="648.4" stroke="#3a3a3a" stroke-width="0.8"/>
<polygon points="543.6,648.4 547.8,647.1 547.8,649.7" fill="#3a3a3a"/>
<polygon points="594.4,648.4 590.2,649.7 590.2,647.1" fill="#3a3a3a"/>
<line x1="533.8" y1="635.0" x2="533.8" y2="667.0" stroke="#3a3a3a" stroke-width="0.8"/>
<line x1="603.4" y1="635.0" x2="603.4" y2="667.0" stroke="#3a3a3a" stroke-width="0.8"/>
<text x="569.4" y="662.5" font-size="9.0" text-anchor="middle" font-weight="normal" fill="#2a2a2a" textLength="19.37" lengthAdjust="spacingAndGlyphs" stroke="#2a2a2a" stroke-width="0.14" font-family="Liberation Sans, sans-serif">234.9</text>
<line x1="533.8" y1="663.8" x2="603.4" y2="663.8" stroke="#3a3a3a" stroke-width="0.8"/>
<polygon points="533.8,663.8 538.0,662.5 538.0,665.1" fill="#3a3a3a"/>
<polygon points="603.4,663.8 599.2,665.1 599.2,662.5" fill="#3a3a3a"/>
<line x1="528.6" y1="635.0" x2="528.6" y2="683.0" stroke="#3a3a3a" stroke-width="0.8"/>
<line x1="607.5" y1="635.0" x2="607.5" y2="683.0" stroke="#3a3a3a" stroke-width="0.8"/>
<text x="569.4" y="676.6" font-size="9.0" text-anchor="middle" font-weight="normal" fill="#2a2a2a" textLength="12.91" lengthAdjust="spacingAndGlyphs" stroke="#2a2a2a" stroke-width="0.14" font-family="Liberation Sans, sans-serif">265</text>
<line x1="528.6" y1="679.3" x2="607.5" y2="679.3" stroke="#3a3a3a" stroke-width="0.8"/>
<polygon points="528.6,679.3 532.8,678.0 532.8,680.6" fill="#3a3a3a"/>
<polygon points="607.5,679.3 603.3,680.6 603.3,678.0" fill="#3a3a3a"/>
<text x="550.4" y="713.1" font-size="8.8" text-anchor="start" font-weight="normal" fill="#2a2a2a" textLength="104.7" lengthAdjust="spacingAndGlyphs" stroke="#2a2a2a" stroke-width="0.14" font-family="Liberation Sans, sans-serif">其余尺寸请参照法兰安装型</text>
<text x="178.9" y="741.5" font-size="10.0" text-anchor="middle" font-weight="normal" fill="#2a2a2a" textLength="15.35" lengthAdjust="spacingAndGlyphs" stroke="#2a2a2a" stroke-width="0.14" font-family="Liberation Sans, sans-serif">306</text>
<line x1="132.9" y1="742.8" x2="220.3" y2="742.8" stroke="#3a3a3a" stroke-width="0.8"/>
<polygon points="132.9,742.8 137.1,741.5 137.1,744.1" fill="#3a3a3a"/>
<polygon points="220.3,742.8 216.1,744.1 216.1,741.5" fill="#3a3a3a"/>
<text x="231.0" y="741.5" font-size="10.0" text-anchor="middle" font-weight="normal" fill="#2a2a2a" textLength="17.91" lengthAdjust="spacingAndGlyphs" stroke="#2a2a2a" stroke-width="0.14" font-family="Liberation Sans, sans-serif">87.7</text>
<line x1="220.3" y1="742.8" x2="243.3" y2="742.8" stroke="#3a3a3a" stroke-width="0.8"/>
<polygon points="220.3,742.8 224.5,741.5 224.5,744.1" fill="#3a3a3a"/>
<polygon points="243.3,742.8 239.1,744.1 239.1,741.5" fill="#3a3a3a"/>
<text x="157.4" y="755.6" font-size="10.0" text-anchor="middle" font-weight="normal" fill="#2a2a2a" textLength="23.02" lengthAdjust="spacingAndGlyphs" stroke="#2a2a2a" stroke-width="0.14" font-family="Liberation Sans, sans-serif">119.9</text>
<line x1="141.1" y1="756.6" x2="173.6" y2="756.6" stroke="#3a3a3a" stroke-width="0.8"/>
<polygon points="141.1,756.6 145.3,755.3 145.3,757.9" fill="#3a3a3a"/>
<polygon points="173.6,756.6 169.4,757.9 169.4,755.3" fill="#3a3a3a"/>
<text x="189.5" y="755.6" font-size="10.0" text-anchor="middle" font-weight="normal" fill="#2a2a2a" textLength="23.02" lengthAdjust="spacingAndGlyphs" stroke="#2a2a2a" stroke-width="0.14" font-family="Liberation Sans, sans-serif">119.3</text>
<line x1="173.6" y1="756.6" x2="206.5" y2="756.6" stroke="#3a3a3a" stroke-width="0.8"/>
<polygon points="173.6,756.6 177.8,755.3 177.8,757.9" fill="#3a3a3a"/>
<polygon points="206.5,756.6 202.3,757.9 202.3,755.3" fill="#3a3a3a"/>
<text x="212.5" y="755.6" font-size="10.0" text-anchor="middle" font-weight="normal" fill="#2a2a2a" textLength="17.91" lengthAdjust="spacingAndGlyphs" stroke="#2a2a2a" stroke-width="0.14" font-family="Liberation Sans, sans-serif">42.9</text>
<line x1="206.5" y1="756.6" x2="220.3" y2="756.6" stroke="#3a3a3a" stroke-width="0.8"/>
<polygon points="206.5,756.6 210.7,755.3 210.7,757.9" fill="#3a3a3a"/>
<polygon points="220.3,756.6 216.1,757.9 216.1,755.3" fill="#3a3a3a"/>
<text x="233.0" y="755.6" font-size="10.0" text-anchor="middle" font-weight="normal" fill="#2a2a2a" textLength="17.91" lengthAdjust="spacingAndGlyphs" stroke="#2a2a2a" stroke-width="0.14" font-family="Liberation Sans, sans-serif">12.7</text>
<line x1="224.0" y1="756.6" x2="243.0" y2="756.6" stroke="#3a3a3a" stroke-width="0.8"/>
<polygon points="224.0,756.6 228.2,755.3 228.2,757.9" fill="#3a3a3a"/>
<text x="236.0" y="768.5" font-size="10.0" text-anchor="middle" font-weight="normal" fill="#2a2a2a" textLength="17.91" lengthAdjust="spacingAndGlyphs" stroke="#2a2a2a" stroke-width="0.14" font-family="Liberation Sans, sans-serif">50.8</text>
<line x1="228.0" y1="770.4" x2="243.3" y2="770.4" stroke="#3a3a3a" stroke-width="0.8"/>
<polygon points="228.0,770.4 232.2,769.1 232.2,771.7" fill="#3a3a3a"/>
<polygon points="243.3,770.4 239.1,771.7 239.1,769.1" fill="#3a3a3a"/>
<line x1="132.9" y1="737.0" x2="132.9" y2="791.0" stroke="#3a3a3a" stroke-width="0.8"/>
<line x1="141.1" y1="751.0" x2="141.1" y2="791.0" stroke="#3a3a3a" stroke-width="0.8"/>
<line x1="173.6" y1="751.0" x2="173.6" y2="784.8" stroke="#3a3a3a" stroke-width="0.8"/>
<line x1="206.5" y1="751.0" x2="206.5" y2="788.0" stroke="#3a3a3a" stroke-width="0.8"/>
<line x1="220.3" y1="737.0" x2="220.3" y2="791.0" stroke="#3a3a3a" stroke-width="0.8"/>
<line x1="224.0" y1="751.0" x2="224.0" y2="808.0" stroke="#3a3a3a" stroke-width="0.8"/>
<line x1="228.0" y1="765.0" x2="228.0" y2="808.0" stroke="#3a3a3a" stroke-width="0.8"/>
<line x1="243.3" y1="737.0" x2="243.3" y2="819.4" stroke="#3a3a3a" stroke-width="0.8"/>
<text x="257.0" y="755.6" font-size="10.0" text-anchor="start" font-weight="normal" fill="#2a2a2a" textLength="23.5" lengthAdjust="spacingAndGlyphs" stroke="#2a2a2a" stroke-width="0.14" font-family="Liberation Sans, sans-serif">□9.54</text>
<g transform="translate(281.5,752.0)" font-size="3.8" fill="#555" font-family="Liberation Sans, sans-serif"><text x="0" y="-1.2">0</text><text x="0" y="3.6">-0.015</text></g>
<polyline points="255.0,755.7 287.0,755.7" fill="none" stroke="#3a3a3a" stroke-width="0.8"/>
<line x1="255.0" y1="755.7" x2="235.6" y2="807.8" stroke="#3a3a3a" stroke-width="0.8"/>
<polygon points="235.6,807.8 236.0,803.4 238.4,804.4" fill="#3a3a3a"/>
<text x="94.5" y="810.8" font-size="10.0" text-anchor="middle" font-weight="normal" fill="#2a2a2a" textLength="6.14" lengthAdjust="spacingAndGlyphs" stroke="#2a2a2a" stroke-width="0.14" font-family="Liberation Sans, sans-serif">X</text>
<line x1="86.9" y1="813.9" x2="106.8" y2="813.9" stroke="#3a3a3a" stroke-width="0.8"/>
<polygon points="106.8,813.9 102.6,815.2 102.6,812.6" fill="#3a3a3a"/>
<path d="M136.8,791.8 L144.7,791.8 Q146.7,791.8 146.7,793.8 L146.7,805.2 Q146.7,807.2 144.7,807.2 L136.8,807.2 Q134.8,807.2 134.8,805.2 L134.8,793.8 Q134.8,791.8 136.8,791.8 Z" fill="none" stroke="#3a3a3a" stroke-width="0.8"/>
<circle cx="137.2" cy="794.2" r="1.1" fill="none" stroke="#3a3a3a" stroke-width="0.8"/>
<circle cx="144.3" cy="794.2" r="1.1" fill="none" stroke="#3a3a3a" stroke-width="0.8"/>
<circle cx="137.2" cy="804.8" r="1.1" fill="none" stroke="#3a3a3a" stroke-width="0.8"/>
<circle cx="144.3" cy="804.8" r="1.1" fill="none" stroke="#3a3a3a" stroke-width="0.8"/>
<ellipse cx="140.7" cy="799.5" rx="3.2" ry="2.3" fill="none" stroke="#3a3a3a" stroke-width="0.7"/>
<path d="M154.4,791.8 L154.4,784.8 L192.2,784.8 L192.2,791.8 M192.2,789 L198.5,789" fill="none" stroke="#3a3a3a" stroke-width="0.8"/>
<path d="M198.5,837.3 L198.5,786.9 L216,786.9 Q218.1,786.9 218.1,789 L218.1,837.3" fill="none" stroke="#3a3a3a" stroke-width="0.8"/>
<path d="M133.8,807.2 L133.8,834 Q133.8,837.3 136.5,837.3 L218.1,837.3" fill="none" stroke="#3a3a3a" stroke-width="0.8"/>
<line x1="146.7" y1="791.8" x2="154.4" y2="791.8" stroke="#3a3a3a" stroke-width="0.8"/>
<line x1="151.0" y1="793.0" x2="151.0" y2="837.3" stroke="#3a3a3a" stroke-width="0.8"/>
<rect x="149.5" y="793.5" width="3.0" height="1.8" rx="0" fill="none" stroke="#3a3a3a" stroke-width="0.5"/>
<rect x="149.5" y="796.1" width="3.0" height="1.8" rx="0" fill="none" stroke="#3a3a3a" stroke-width="0.5"/>
<rect x="149.5" y="798.7" width="3.0" height="1.8" rx="0" fill="none" stroke="#3a3a3a" stroke-width="0.5"/>
<rect x="149.5" y="801.3" width="3.0" height="1.8" rx="0" fill="none" stroke="#3a3a3a" stroke-width="0.5"/>
<rect x="220.3" y="796.0" width="3.0" height="37.0" rx="0" fill="none" stroke="#3a3a3a" stroke-width="0.8"/>
<rect x="223.3" y="808.4" width="20.0" height="11.0" rx="0" fill="none" stroke="#3a3a3a" stroke-width="0.8"/>
<path d="M153,805 Q153,801.6 156.5,801.6 L161.5,801.6 Q165,801.6 165,805 L165,824 Q165,827.5 161.5,827.5 L156.5,827.5 Q153,827.5 153,824 Z" fill="none" stroke="#3a3a3a" stroke-width="0.8"/>
<line x1="165.0" y1="808.6" x2="202.7" y2="808.6" stroke="#3a3a3a" stroke-width="0.8"/>
<line x1="165.0" y1="820.5" x2="202.7" y2="820.5" stroke="#3a3a3a" stroke-width="0.8"/>
<rect x="202.7" y="807.9" width="12.6" height="13.3" rx="2.5" fill="none" stroke="#3a3a3a" stroke-width="0.8"/>
<line x1="128.0" y1="813.9" x2="245.0" y2="813.9" stroke="#3a3a3a" stroke-width="0.6" stroke-dasharray="3,2"/>
<line x1="223.3" y1="795.5" x2="289.3" y2="795.5" stroke="#3a3a3a" stroke-width="0.8"/>
<line x1="223.3" y1="833.9" x2="289.3" y2="833.9" stroke="#3a3a3a" stroke-width="0.8"/>
<line x1="286.2" y1="795.5" x2="286.2" y2="833.9" stroke="#3a3a3a" stroke-width="0.8"/>
<polygon points="286.2,795.5 287.5,799.7 284.9,799.7" fill="#3a3a3a"/>
<polygon points="286.2,833.9 284.9,829.7 287.5,829.7" fill="#3a3a3a"/>
<text x="278.5" y="820.6" font-size="10.0" text-anchor="middle" font-weight="normal" fill="#2a2a2a" transform="rotate(-90 278.5 817.0)" textLength="22.92" lengthAdjust="spacingAndGlyphs" stroke="#2a2a2a" stroke-width="0.14" font-family="Liberation Sans, sans-serif">ф127</text>
<g transform="translate(278.5,803.0) rotate(-90)" font-size="3.8" fill="#555" font-family="Liberation Sans, sans-serif"><text x="0" y="-1.2">0</text><text x="0" y="3.6">-0.06</text></g>
<line x1="243.3" y1="808.4" x2="273.0" y2="808.4" stroke="#3a3a3a" stroke-width="0.8"/>
<line x1="243.3" y1="819.4" x2="273.0" y2="819.4" stroke="#3a3a3a" stroke-width="0.8"/>
<line x1="257.6" y1="800.0" x2="257.6" y2="875.0" stroke="#3a3a3a" stroke-width="0.8"/>
<polygon points="257.6,808.4 256.3,804.2 258.9,804.2" fill="#3a3a3a"/>
<polygon points="257.6,819.4 258.9,823.6 256.3,823.6" fill="#3a3a3a"/>
<line x1="270.4" y1="800.0" x2="270.4" y2="862.0" stroke="#3a3a3a" stroke-width="0.8"/>
<polygon points="270.4,808.4 269.1,804.2 271.7,804.2" fill="#3a3a3a"/>
<polygon points="270.4,819.4 271.7,823.6 269.1,823.6" fill="#3a3a3a"/>
<line x1="224.9" y1="838.5" x2="224.9" y2="857.0" stroke="#3a3a3a" stroke-width="0.8"/>
<line x1="242.3" y1="820.0" x2="242.3" y2="857.0" stroke="#3a3a3a" stroke-width="0.8"/>
<text x="233.6" y="852.8" font-size="10.0" text-anchor="middle" font-weight="normal" fill="#2a2a2a" textLength="17.91" lengthAdjust="spacingAndGlyphs" stroke="#2a2a2a" stroke-width="0.14" font-family="Liberation Sans, sans-serif">73.0</text>
<line x1="224.9" y1="853.8" x2="242.3" y2="853.8" stroke="#3a3a3a" stroke-width="0.8"/>
<polygon points="224.9,853.8 229.1,852.5 229.1,855.1" fill="#3a3a3a"/>
<polygon points="242.3,853.8 238.1,855.1 238.1,852.5" fill="#3a3a3a"/>
<text x="253.0" y="862.6" font-size="10.0" text-anchor="middle" font-weight="normal" fill="#2a2a2a" transform="rotate(-90 253.0 859.0)" textLength="35.71" lengthAdjust="spacingAndGlyphs" stroke="#2a2a2a" stroke-width="0.14" font-family="Liberation Sans, sans-serif">ф38.075</text>
<g transform="translate(253.0,842.0) rotate(-90)" font-size="3.8" fill="#555" font-family="Liberation Sans, sans-serif"><text x="0" y="-1.2">0</text><text x="0" y="3.6">-0.025</text></g>
<text x="265.5" y="855.1" font-size="10.0" text-anchor="middle" font-weight="normal" fill="#2a2a2a" transform="rotate(-90 265.5 851.5)" textLength="23.02" lengthAdjust="spacingAndGlyphs" stroke="#2a2a2a" stroke-width="0.14" font-family="Liberation Sans, sans-serif">42.38</text>
<g transform="translate(265.5,840.0) rotate(-90)" font-size="3.8" fill="#555" font-family="Liberation Sans, sans-serif"><text x="0" y="-1.2">0</text><text x="0" y="3.6">-0.25</text></g>
<text x="374.9" y="767.0" font-size="10.0" text-anchor="middle" font-weight="normal" fill="#2a2a2a" textLength="15.35" lengthAdjust="spacingAndGlyphs" stroke="#2a2a2a" stroke-width="0.14" font-family="Liberation Sans, sans-serif">181</text>
<line x1="348.9" y1="768.6" x2="403.5" y2="768.6" stroke="#3a3a3a" stroke-width="0.8"/>
<polygon points="348.9,768.6 353.1,767.3 353.1,769.9" fill="#3a3a3a"/>
<polygon points="403.5,768.6 399.3,769.9 399.3,767.3" fill="#3a3a3a"/>
<path d="M355.5,795 L355.5,783 L439.3,783" fill="none" stroke="#3a3a3a" stroke-width="0.8"/>
<line x1="356.0" y1="786.0" x2="439.3" y2="786.0" stroke="#3a3a3a" stroke-width="0.8"/>
<path d="M355.5,820 L355.5,827 Q355.5,833 361.5,833 L392,833 Q398,833 398,827 L398,786" fill="none" stroke="#3a3a3a" stroke-width="0.8"/>
<path d="M343.8,804.6 L369,786.9 A24,24 0 0,1 396,796 Q409.8,800 409.8,810.2 Q409.8,820.4 396,824.4 A24,24 0 0,1 369,833.5 L343.8,814.6 Z" fill="#fff" stroke="#3a3a3a" stroke-width="0.9"/>
<line x1="348.9" y1="764.0" x2="348.9" y2="810.0" stroke="#3a3a3a" stroke-width="0.8"/>
<line x1="403.5" y1="764.0" x2="403.5" y2="810.0" stroke="#3a3a3a" stroke-width="0.8"/>
<circle cx="376.7" cy="810.2" r="19.0" fill="none" stroke="#3a3a3a" stroke-width="0.8"/>
<circle cx="376.7" cy="810.2" r="6.0" fill="none" stroke="#3a3a3a" stroke-width="0.8"/>
<circle cx="376.7" cy="810.2" r="3.5" fill="none" stroke="#3a3a3a" stroke-width="0.6"/>
<circle cx="348.9" cy="810.2" r="2.4" fill="none" stroke="#3a3a3a" stroke-width="0.8"/>
<circle cx="403.5" cy="810.2" r="2.4" fill="none" stroke="#3a3a3a" stroke-width="0.8"/>
<line x1="336.0" y1="810.2" x2="440.0" y2="810.2" stroke="#3a3a3a" stroke-width="0.6" stroke-dasharray="3,2"/>
<line x1="376.7" y1="778.0" x2="376.7" y2="842.0" stroke="#3a3a3a" stroke-width="0.6" stroke-dasharray="3,2"/>
<rect x="368.7" y="833.5" width="14.7" height="2.7" rx="0" fill="none" stroke="#3a3a3a" stroke-width="0.8"/>
<polyline points="352.4,831.9 422.0,769.6 442.7,769.6" fill="none" stroke="#3a3a3a" stroke-width="0.8"/>
<polygon points="352.4,831.9 354.7,828.1 356.4,830.1" fill="#3a3a3a"/>
<text x="422.0" y="767.6" font-size="10.0" text-anchor="start" font-weight="normal" fill="#2a2a2a" textLength="22.92" lengthAdjust="spacingAndGlyphs" stroke="#2a2a2a" stroke-width="0.14" font-family="Liberation Sans, sans-serif">ф212</text>
<polyline points="367.1,792.9 396.6,849.3 421.0,849.3" fill="none" stroke="#3a3a3a" stroke-width="0.8"/>
<polygon points="367.1,792.9 370.2,796.0 367.9,797.2" fill="#3a3a3a"/>
<text x="399.3" y="846.9" font-size="10.0" text-anchor="start" font-weight="normal" fill="#2a2a2a" textLength="20.7" lengthAdjust="spacingAndGlyphs" stroke="#2a2a2a" stroke-width="0.14" font-family="Liberation Sans, sans-serif">ф148</text>
<text x="342.0" y="856.3" font-size="10.0" text-anchor="start" font-weight="normal" fill="#2a2a2a" textLength="39.9" lengthAdjust="spacingAndGlyphs" stroke="#2a2a2a" stroke-width="0.14" font-family="Liberation Sans, sans-serif">ф17.5,2孔</text>
<polyline points="332.5,857.9 384.5,857.9" fill="none" stroke="#3a3a3a" stroke-width="0.8"/>
<polyline points="332.5,881.2 332.5,857.9 346.3,814.5" fill="none" stroke="#3a3a3a" stroke-width="0.8"/>
<polygon points="346.3,814.5 346.2,818.9 343.8,818.1" fill="#3a3a3a"/>
<text x="344.6" y="879.6" font-size="10.0" text-anchor="start" font-weight="normal" fill="#2a2a2a" textLength="61.5" lengthAdjust="spacingAndGlyphs" stroke="#2a2a2a" stroke-width="0.14" font-family="Liberation Sans, sans-serif">ф35x0.5深,沉孔</text>
<line x1="332.5" y1="881.2" x2="414.8" y2="881.2" stroke="#3a3a3a" stroke-width="0.8"/>
<line x1="422.7" y1="786.0" x2="422.7" y2="810.2" stroke="#3a3a3a" stroke-width="0.8"/>
<polygon points="422.7,786.0 424.0,790.2 421.4,790.2" fill="#3a3a3a"/>
<polygon points="422.7,810.2 421.4,806.0 424.0,806.0" fill="#3a3a3a"/>
<text x="416.7" y="801.6" font-size="10.0" text-anchor="middle" font-weight="normal" fill="#2a2a2a" transform="rotate(-90 416.7 798.0)" textLength="17.91" lengthAdjust="spacingAndGlyphs" stroke="#2a2a2a" stroke-width="0.14" font-family="Liberation Sans, sans-serif">93.6</text>
<line x1="437.6" y1="783.3" x2="437.6" y2="810.2" stroke="#3a3a3a" stroke-width="0.8"/>
<polygon points="437.6,783.3 438.9,787.5 436.3,787.5" fill="#3a3a3a"/>
<polygon points="437.6,810.2 436.3,806.0 438.9,806.0" fill="#3a3a3a"/>
<text x="432.7" y="800.6" font-size="10.0" text-anchor="middle" font-weight="normal" fill="#2a2a2a" transform="rotate(-90 432.7 797.0)" textLength="23.02" lengthAdjust="spacingAndGlyphs" stroke="#2a2a2a" stroke-width="0.14" font-family="Liberation Sans, sans-serif">102.4</text>
<text x="545.6" y="746.7" font-size="9.7" text-anchor="start" font-weight="normal" fill="#2a2a2a" textLength="50.4" lengthAdjust="spacingAndGlyphs" stroke="#2a2a2a" stroke-width="0.14" font-family="Liberation Sans, sans-serif">出油口 ф19.1</text>
<polyline points="542.0,748.0 599.8,748.0 603.8,765.6" fill="none" stroke="#3a3a3a" stroke-width="0.8"/>
<polygon points="603.8,765.6 601.6,761.8 604.1,761.2" fill="#3a3a3a"/>
<text x="489.2" y="769.5" font-size="9.7" text-anchor="start" font-weight="normal" fill="#2a2a2a" textLength="92.4" lengthAdjust="spacingAndGlyphs" stroke="#2a2a2a" stroke-width="0.14" font-family="Liberation Sans, sans-serif">4-3/8-16UNC-2B,深19.1</text>
<line x1="474.8" y1="771.6" x2="597.8" y2="771.6" stroke="#3a3a3a" stroke-width="0.8"/>
<polygon points="597.8,771.6 593.6,772.9 593.6,770.3" fill="#3a3a3a"/>
<rect x="599.6" y="769.4" width="15.6" height="10" rx="3" fill="#fff" stroke="#3a3a3a" stroke-width="0.9" transform="rotate(50 607.4 774.4)"/>
<circle cx="605.0" cy="768.4" r="0.9" fill="#3a3a3a" stroke="#3a3a3a" stroke-width="0.4"/>
<circle cx="601.4" cy="772.0" r="0.9" fill="#3a3a3a" stroke="#3a3a3a" stroke-width="0.4"/>
<circle cx="613.8" cy="777.2" r="0.9" fill="#3a3a3a" stroke="#3a3a3a" stroke-width="0.4"/>
<circle cx="610.2" cy="780.8" r="0.9" fill="#3a3a3a" stroke="#3a3a3a" stroke-width="0.4"/>
<circle cx="607.4" cy="775.2" r="2.6" fill="none" stroke="#3a3a3a" stroke-width="0.6" stroke-dasharray="1,0.6"/>
<line x1="606.6" y1="765.6" x2="616.2" y2="756.8" stroke="#3a3a3a" stroke-width="0.8"/>
<line x1="616.2" y1="775.2" x2="625.0" y2="766.4" stroke="#3a3a3a" stroke-width="0.8"/>
<line x1="617.0" y1="758.0" x2="624.2" y2="765.2" stroke="#3a3a3a" stroke-width="0.8"/>
<polygon points="617.0,758.0 620.9,760.1 619.1,761.9" fill="#3a3a3a"/>
<polygon points="624.2,765.2 620.3,763.1 622.1,761.3" fill="#3a3a3a"/>
<text x="626.6" y="760.7" font-size="9.7" text-anchor="middle" font-weight="normal" fill="#2a2a2a" transform="rotate(55 626.6 757.2)" textLength="16.61" lengthAdjust="spacingAndGlyphs" stroke="#2a2a2a" stroke-width="0.14" font-family="Liberation Sans, sans-serif">47.6</text>
<line x1="611.4" y1="783.2" x2="620.2" y2="791.2" stroke="#3a3a3a" stroke-width="0.8"/>
<line x1="616.2" y1="780.0" x2="625.0" y2="788.0" stroke="#3a3a3a" stroke-width="0.8"/>
<line x1="620.2" y1="792.8" x2="637.8" y2="774.4" stroke="#3a3a3a" stroke-width="0.8"/>
<polygon points="621.5,791.4 623.6,787.5 625.4,789.3" fill="#3a3a3a"/>
<polygon points="625.0,788.0 622.9,791.9 621.1,790.1" fill="#3a3a3a"/>
<text x="632.2" y="776.3" font-size="9.7" text-anchor="middle" font-weight="normal" fill="#2a2a2a" transform="rotate(-55 632.2 772.8)" textLength="16.61" lengthAdjust="spacingAndGlyphs" stroke="#2a2a2a" stroke-width="0.14" font-family="Liberation Sans, sans-serif">22.2</text>
<polyline points="602.6,780.8 587.4,796.0" fill="none" stroke="#3a3a3a" stroke-width="0.6" stroke-dasharray="3,2"/>
<line x1="585.0" y1="797.6" x2="611.4" y2="797.6" stroke="#3a3a3a" stroke-width="0.6" stroke-dasharray="3,2"/>
<polyline points="618.8,790.0 585.2,828.4" fill="none" stroke="#3a3a3a" stroke-width="0.6" stroke-dasharray="3,2"/>
<text x="536.0" y="803.1" font-size="9.7" text-anchor="middle" font-weight="normal" fill="#2a2a2a" textLength="14.23" lengthAdjust="spacingAndGlyphs" stroke="#2a2a2a" stroke-width="0.14" font-family="Liberation Sans, sans-serif">X向</text>
<line x1="526.4" y1="806.3" x2="546.3" y2="806.3" stroke="#3a3a3a" stroke-width="0.8"/>
<rect x="536.5" y="831.0" width="41.8" height="50.6" rx="0" fill="none" stroke="#3a3a3a" stroke-width="0.8"/>
<line x1="536.5" y1="881.6" x2="536.5" y2="898.0" stroke="#3a3a3a" stroke-width="0.8"/>
<line x1="578.3" y1="881.6" x2="578.3" y2="898.0" stroke="#3a3a3a" stroke-width="0.8"/>
<line x1="539.0" y1="877.0" x2="576.0" y2="877.0" stroke="#3a3a3a" stroke-width="0.6"/>
<path d="M536.5,848.6 Q529.2,851 529.2,858.4 Q529.2,866 536.5,868.4" fill="none" stroke="#3a3a3a" stroke-width="0.8"/>
<path d="M578.3,848.6 Q586.4,851 586.4,858.4 Q586.4,866 578.3,868.4" fill="none" stroke="#3a3a3a" stroke-width="0.8"/>
<circle cx="541.7" cy="842.0" r="5.1" fill="#fff" stroke="#3a3a3a" stroke-width="0.8"/>
<circle cx="573.2" cy="842.0" r="5.1" fill="#fff" stroke="#3a3a3a" stroke-width="0.8"/>
<circle cx="541.0" cy="875.0" r="5.1" fill="#fff" stroke="#3a3a3a" stroke-width="0.8"/>
<circle cx="573.9" cy="875.0" r="5.1" fill="#fff" stroke="#3a3a3a" stroke-width="0.8"/>
<rect x="545.4" y="846.4" width="24" height="24" fill="#fff" stroke="#3a3a3a" stroke-width="0.9" transform="rotate(45 557.4 858.4)"/>
<rect x="551.2" y="852.2" width="12.4" height="12.4" fill="none" stroke="#3a3a3a" stroke-width="0.7" transform="rotate(45 557.4 858.4)"/>
<rect x="555.4" y="828.4" width="15" height="30" fill="none" stroke="#3a3a3a" stroke-width="0.7" transform="rotate(45 557.4 858.4)"/>
<line x1="557.6" y1="826.0" x2="557.6" y2="892.0" stroke="#3a3a3a" stroke-width="0.6" stroke-dasharray="3,2"/>
<circle cx="557.0" cy="844.2" r="3.2" fill="#fff" stroke="#3a3a3a" stroke-width="1.1"/>
<circle cx="557.0" cy="844.2" r="1.7" fill="none" stroke="#3a3a3a" stroke-width="0.7"/>
<circle cx="543.9" cy="858.4" r="3.2" fill="#fff" stroke="#3a3a3a" stroke-width="1.1"/>
<circle cx="543.9" cy="858.4" r="1.7" fill="none" stroke="#3a3a3a" stroke-width="0.7"/>
<circle cx="571.0" cy="858.4" r="3.2" fill="#fff" stroke="#3a3a3a" stroke-width="1.1"/>
<circle cx="571.0" cy="858.4" r="1.7" fill="none" stroke="#3a3a3a" stroke-width="0.7"/>
<circle cx="557.0" cy="872.8" r="3.2" fill="#fff" stroke="#3a3a3a" stroke-width="1.1"/>
<circle cx="557.0" cy="872.8" r="1.7" fill="none" stroke="#3a3a3a" stroke-width="0.7"/>
<line x1="516.0" y1="858.4" x2="606.2" y2="858.4" stroke="#3a3a3a" stroke-width="0.8"/>
<polyline points="579.8,837.6 593.0,820.0" fill="none" stroke="#3a3a3a" stroke-width="0.6" stroke-dasharray="3,2"/>
<path d="M586.4,829.5 Q601,840 599.6,856.7" fill="none" stroke="#3a3a3a" stroke-width="0.7"/>
<polygon points="599.6,856.7 598.4,852.5 601.0,852.5" fill="#3a3a3a"/>
<polygon points="586.4,829.5 590.6,830.8 589.1,833.0" fill="#3a3a3a"/>
<text x="602.5" y="840.4" font-size="9.7" text-anchor="middle" font-weight="normal" fill="#2a2a2a" transform="rotate(75 602.5 836.9)" textLength="12.91" lengthAdjust="spacingAndGlyphs" stroke="#2a2a2a" stroke-width="0.14" font-family="Liberation Sans, sans-serif">45°</text>
<line x1="516.0" y1="881.6" x2="537.0" y2="881.6" stroke="#3a3a3a" stroke-width="0.8"/>
<line x1="518.9" y1="858.4" x2="518.9" y2="881.6" stroke="#3a3a3a" stroke-width="0.8"/>
<polygon points="518.9,858.4 520.2,862.6 517.6,862.6" fill="#3a3a3a"/>
<polygon points="518.9,881.6 517.6,877.4 520.2,877.4" fill="#3a3a3a"/>
<text x="513.8" y="873.4" font-size="9.7" text-anchor="middle" font-weight="normal" fill="#2a2a2a" transform="rotate(-90 513.8 869.9)" textLength="9.49" lengthAdjust="spacingAndGlyphs" stroke="#2a2a2a" stroke-width="0.14" font-family="Liberation Sans, sans-serif">85</text>
<text x="557.8" y="894.1" font-size="9.7" text-anchor="middle" font-weight="normal" fill="#2a2a2a" textLength="14.24" lengthAdjust="spacingAndGlyphs" stroke="#2a2a2a" stroke-width="0.14" font-family="Liberation Sans, sans-serif">162</text>
<line x1="536.5" y1="894.8" x2="578.3" y2="894.8" stroke="#3a3a3a" stroke-width="0.8"/>
<polygon points="536.5,894.8 540.7,893.5 540.7,896.1" fill="#3a3a3a"/>
<polygon points="578.3,894.8 574.1,896.1 574.1,893.5" fill="#3a3a3a"/>
<line x1="585.0" y1="890.0" x2="604.0" y2="868.0" stroke="#3a3a3a" stroke-width="0.8"/>
<polygon points="585.0,890.0 586.7,885.9 588.7,887.6" fill="#3a3a3a"/>
<polygon points="604.0,868.0 602.3,872.1 600.3,870.4" fill="#3a3a3a"/>
<line x1="574.0" y1="877.0" x2="589.0" y2="894.0" stroke="#3a3a3a" stroke-width="0.8"/>
<line x1="592.0" y1="860.0" x2="608.0" y2="873.0" stroke="#3a3a3a" stroke-width="0.8"/>
<text x="594.5" y="882.5" font-size="9.7" text-anchor="middle" font-weight="normal" fill="#2a2a2a" transform="rotate(-50 594.5 879.0)" textLength="16.61" lengthAdjust="spacingAndGlyphs" stroke="#2a2a2a" stroke-width="0.14" font-family="Liberation Sans, sans-serif">76.2</text>
<g transform="translate(686,123) rotate(-15)" fill="#e2e2e2" fill-opacity="0.42"><text x="0" y="0" font-size="30" font-weight="bold" font-family="Liberation Sans, sans-serif" textLength="112" lengthAdjust="spacingAndGlyphs">CCLair</text><text x="119" y="-27" font-size="9" font-family="Liberation Sans, sans-serif">®</text></g>
<g transform="translate(471,183) rotate(-15)" fill="#e2e2e2" fill-opacity="0.42"><text x="0" y="0" font-size="30" font-weight="bold" font-family="Liberation Sans, sans-serif" textLength="112" lengthAdjust="spacingAndGlyphs">CCLair</text><text x="119" y="-27" font-size="9" font-family="Liberation Sans, sans-serif">®</text></g>
<g transform="translate(594,267) rotate(-15)" fill="#e2e2e2" fill-opacity="0.42"><text x="0" y="0" font-size="30" font-weight="bold" font-family="Liberation Sans, sans-serif" textLength="112" lengthAdjust="spacingAndGlyphs">CCLair</text><text x="119" y="-27" font-size="9" font-family="Liberation Sans, sans-serif">®</text></g>
<g transform="translate(269,240) rotate(-15)" fill="#e2e2e2" fill-opacity="0.42"><text x="0" y="0" font-size="30" font-weight="bold" font-family="Liberation Sans, sans-serif" textLength="112" lengthAdjust="spacingAndGlyphs">CCLair</text><text x="119" y="-27" font-size="9" font-family="Liberation Sans, sans-serif">®</text></g>
<g transform="translate(61,288) rotate(-15)" fill="#e2e2e2" fill-opacity="0.42"><text x="0" y="0" font-size="30" font-weight="bold" font-family="Liberation Sans, sans-serif" textLength="112" lengthAdjust="spacingAndGlyphs">CCLair</text><text x="119" y="-27" font-size="9" font-family="Liberation Sans, sans-serif">®</text></g>
<g transform="translate(388,320) rotate(-15)" fill="#e2e2e2" fill-opacity="0.42"><text x="0" y="0" font-size="30" font-weight="bold" font-family="Liberation Sans, sans-serif" textLength="112" lengthAdjust="spacingAndGlyphs">CCLair</text><text x="119" y="-27" font-size="9" font-family="Liberation Sans, sans-serif">®</text></g>
<g transform="translate(176,379) rotate(-15)" fill="#e2e2e2" fill-opacity="0.42"><text x="0" y="0" font-size="30" font-weight="bold" font-family="Liberation Sans, sans-serif" textLength="112" lengthAdjust="spacingAndGlyphs">CCLair</text><text x="119" y="-27" font-size="9" font-family="Liberation Sans, sans-serif">®</text></g>
<g transform="translate(544,395) rotate(-15)" fill="#e2e2e2" fill-opacity="0.42"><text x="0" y="0" font-size="30" font-weight="bold" font-family="Liberation Sans, sans-serif" textLength="112" lengthAdjust="spacingAndGlyphs">CCLair</text><text x="119" y="-27" font-size="9" font-family="Liberation Sans, sans-serif">®</text></g>
<g transform="translate(-18,437) rotate(-15)" fill="#e2e2e2" fill-opacity="0.42"><text x="0" y="0" font-size="30" font-weight="bold" font-family="Liberation Sans, sans-serif" textLength="112" lengthAdjust="spacingAndGlyphs">CCLair</text><text x="119" y="-27" font-size="9" font-family="Liberation Sans, sans-serif">®</text></g>
<g transform="translate(659,481) rotate(-15)" fill="#e2e2e2" fill-opacity="0.42"><text x="0" y="0" font-size="30" font-weight="bold" font-family="Liberation Sans, sans-serif" textLength="112" lengthAdjust="spacingAndGlyphs">CCLair</text><text x="119" y="-27" font-size="9" font-family="Liberation Sans, sans-serif">®</text></g>
<g transform="translate(124,507) rotate(-15)" fill="#e2e2e2" fill-opacity="0.42"><text x="0" y="0" font-size="30" font-weight="bold" font-family="Liberation Sans, sans-serif" textLength="112" lengthAdjust="spacingAndGlyphs">CCLair</text><text x="119" y="-27" font-size="9" font-family="Liberation Sans, sans-serif">®</text></g>
<g transform="translate(449,535) rotate(-15)" fill="#e2e2e2" fill-opacity="0.42"><text x="0" y="0" font-size="30" font-weight="bold" font-family="Liberation Sans, sans-serif" textLength="112" lengthAdjust="spacingAndGlyphs">CCLair</text><text x="119" y="-27" font-size="9" font-family="Liberation Sans, sans-serif">®</text></g>
<g transform="translate(239,585) rotate(-15)" fill="#e2e2e2" fill-opacity="0.42"><text x="0" y="0" font-size="30" font-weight="bold" font-family="Liberation Sans, sans-serif" textLength="112" lengthAdjust="spacingAndGlyphs">CCLair</text><text x="119" y="-27" font-size="9" font-family="Liberation Sans, sans-serif">®</text></g>
<g transform="translate(592,613) rotate(-15)" fill="#e2e2e2" fill-opacity="0.42"><text x="0" y="0" font-size="30" font-weight="bold" font-family="Liberation Sans, sans-serif" textLength="112" lengthAdjust="spacingAndGlyphs">CCLair</text><text x="119" y="-27" font-size="9" font-family="Liberation Sans, sans-serif">®</text></g>
<g transform="translate(46,645) rotate(-15)" fill="#e2e2e2" fill-opacity="0.42"><text x="0" y="0" font-size="30" font-weight="bold" font-family="Liberation Sans, sans-serif" textLength="112" lengthAdjust="spacingAndGlyphs">CCLair</text><text x="119" y="-27" font-size="9" font-family="Liberation Sans, sans-serif">®</text></g>
<g transform="translate(389,663) rotate(-15)" fill="#e2e2e2" fill-opacity="0.42"><text x="0" y="0" font-size="30" font-weight="bold" font-family="Liberation Sans, sans-serif" textLength="112" lengthAdjust="spacingAndGlyphs">CCLair</text><text x="119" y="-27" font-size="9" font-family="Liberation Sans, sans-serif">®</text></g>
<g transform="translate(719,700) rotate(-15)" fill="#e2e2e2" fill-opacity="0.42"><text x="0" y="0" font-size="30" font-weight="bold" font-family="Liberation Sans, sans-serif" textLength="112" lengthAdjust="spacingAndGlyphs">CCLair</text><text x="119" y="-27" font-size="9" font-family="Liberation Sans, sans-serif">®</text></g>
<g transform="translate(176,722) rotate(-15)" fill="#e2e2e2" fill-opacity="0.42"><text x="0" y="0" font-size="30" font-weight="bold" font-family="Liberation Sans, sans-serif" textLength="112" lengthAdjust="spacingAndGlyphs">CCLair</text><text x="119" y="-27" font-size="9" font-family="Liberation Sans, sans-serif">®</text></g>
<g transform="translate(509,752) rotate(-15)" fill="#e2e2e2" fill-opacity="0.42"><text x="0" y="0" font-size="30" font-weight="bold" font-family="Liberation Sans, sans-serif" textLength="112" lengthAdjust="spacingAndGlyphs">CCLair</text><text x="119" y="-27" font-size="9" font-family="Liberation Sans, sans-serif">®</text></g>
<g transform="translate(-21,770) rotate(-15)" fill="#e2e2e2" fill-opacity="0.42"><text x="0" y="0" font-size="30" font-weight="bold" font-family="Liberation Sans, sans-serif" textLength="112" lengthAdjust="spacingAndGlyphs">CCLair</text><text x="119" y="-27" font-size="9" font-family="Liberation Sans, sans-serif">®</text></g>
<g transform="translate(304,810) rotate(-15)" fill="#e2e2e2" fill-opacity="0.42"><text x="0" y="0" font-size="30" font-weight="bold" font-family="Liberation Sans, sans-serif" textLength="112" lengthAdjust="spacingAndGlyphs">CCLair</text><text x="119" y="-27" font-size="9" font-family="Liberation Sans, sans-serif">®</text></g>
<g transform="translate(649,827) rotate(-15)" fill="#e2e2e2" fill-opacity="0.42"><text x="0" y="0" font-size="30" font-weight="bold" font-family="Liberation Sans, sans-serif" textLength="112" lengthAdjust="spacingAndGlyphs">CCLair</text><text x="119" y="-27" font-size="9" font-family="Liberation Sans, sans-serif">®</text></g>
<g transform="translate(106,860) rotate(-15)" fill="#e2e2e2" fill-opacity="0.42"><text x="0" y="0" font-size="30" font-weight="bold" font-family="Liberation Sans, sans-serif" textLength="112" lengthAdjust="spacingAndGlyphs">CCLair</text><text x="119" y="-27" font-size="9" font-family="Liberation Sans, sans-serif">®</text></g>
<g transform="translate(444,885) rotate(-15)" fill="#e2e2e2" fill-opacity="0.42"><text x="0" y="0" font-size="30" font-weight="bold" font-family="Liberation Sans, sans-serif" textLength="112" lengthAdjust="spacingAndGlyphs">CCLair</text><text x="119" y="-27" font-size="9" font-family="Liberation Sans, sans-serif">®</text></g>
<g transform="translate(234,940) rotate(-15)" fill="#e2e2e2" fill-opacity="0.42"><text x="0" y="0" font-size="30" font-weight="bold" font-family="Liberation Sans, sans-serif" textLength="112" lengthAdjust="spacingAndGlyphs">CCLair</text><text x="119" y="-27" font-size="9" font-family="Liberation Sans, sans-serif">®</text></g>
<g transform="translate(561,970) rotate(-15)" fill="#e2e2e2" fill-opacity="0.42"><text x="0" y="0" font-size="30" font-weight="bold" font-family="Liberation Sans, sans-serif" textLength="112" lengthAdjust="spacingAndGlyphs">CCLair</text><text x="119" y="-27" font-size="9" font-family="Liberation Sans, sans-serif">®</text></g>
<g transform="translate(36,995) rotate(-15)" fill="#e2e2e2" fill-opacity="0.42"><text x="0" y="0" font-size="30" font-weight="bold" font-family="Liberation Sans, sans-serif" textLength="112" lengthAdjust="spacingAndGlyphs">CCLair</text><text x="119" y="-27" font-size="9" font-family="Liberation Sans, sans-serif">®</text></g>
<g transform="translate(353,1026) rotate(-15)" fill="#e2e2e2" fill-opacity="0.42"><text x="0" y="0" font-size="30" font-weight="bold" font-family="Liberation Sans, sans-serif" textLength="112" lengthAdjust="spacingAndGlyphs">CCLair</text><text x="119" y="-27" font-size="9" font-family="Liberation Sans, sans-serif">®</text></g>
<g transform="translate(-81,545) rotate(-15)" fill="#e2e2e2" fill-opacity="0.42"><text x="0" y="0" font-size="30" font-weight="bold" font-family="Liberation Sans, sans-serif" textLength="112" lengthAdjust="spacingAndGlyphs">CCLair</text><text x="119" y="-27" font-size="9" font-family="Liberation Sans, sans-serif">®</text></g>
<g transform="translate(219,1080) rotate(-15)" fill="#e2e2e2" fill-opacity="0.42"><text x="0" y="0" font-size="30" font-weight="bold" font-family="Liberation Sans, sans-serif" textLength="112" lengthAdjust="spacingAndGlyphs">CCLair</text><text x="119" y="-27" font-size="9" font-family="Liberation Sans, sans-serif">®</text></g>
</svg>
</body></html>
